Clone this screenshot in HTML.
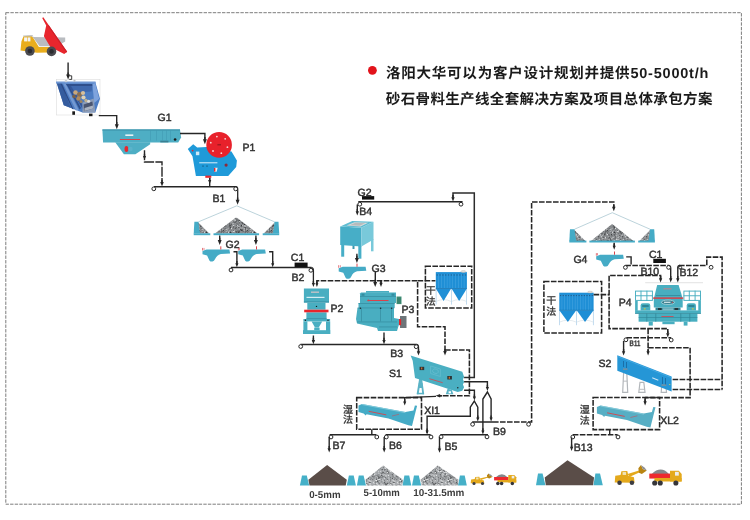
<!DOCTYPE html>
<html><head><meta charset="utf-8"><title>Aggregate production line flow</title>
<style>html,body{margin:0;padding:0;background:#fff;}body{width:750px;height:520px;overflow:hidden;font-family:"Liberation Sans",sans-serif;}svg{display:block}svg text{text-rendering:geometricPrecision}</style>
</head><body>
<svg width="750" height="520" viewBox="0 0 750 520" font-family="Liberation Sans, sans-serif" style="will-change:transform"><defs><pattern id="spk" width="24" height="24" patternUnits="userSpaceOnUse"><rect width="24" height="24" fill="#8a8d90"/><circle cx="7.8" cy="3.6" r="0.51" fill="#2e2f31"/><circle cx="19.7" cy="2.3" r="0.49" fill="#555759"/><circle cx="5.2" cy="2.1" r="0.43" fill="#3a3b3d"/><circle cx="2.2" cy="10.2" r="0.56" fill="#2e2f31"/><circle cx="22.7" cy="15.1" r="0.49" fill="#2e2f31"/><circle cx="13.9" cy="9.5" r="0.61" fill="#2e2f31"/><circle cx="13.4" cy="3.2" r="0.43" fill="#555759"/><circle cx="2.8" cy="7.4" r="0.56" fill="#3a3b3d"/><circle cx="2.5" cy="13.7" r="0.36" fill="#2e2f31"/><circle cx="13.1" cy="1.5" r="0.32" fill="#3a3b3d"/><circle cx="11.9" cy="12.8" r="0.55" fill="#eceeef"/><circle cx="14.1" cy="10.9" r="0.40" fill="#444648"/><circle cx="4.3" cy="18.7" r="0.33" fill="#d8dadc"/><circle cx="12.6" cy="21.0" r="0.53" fill="#d8dadc"/><circle cx="14.6" cy="1.8" r="0.46" fill="#3a3b3d"/><circle cx="18.2" cy="3.6" r="0.46" fill="#2e2f31"/><circle cx="23.1" cy="1.9" r="0.48" fill="#444648"/><circle cx="21.0" cy="7.5" r="0.52" fill="#555759"/><circle cx="11.9" cy="19.1" r="0.32" fill="#2e2f31"/><circle cx="22.7" cy="11.4" r="0.51" fill="#2e2f31"/><circle cx="17.5" cy="7.4" r="0.48" fill="#bfc2c4"/><circle cx="19.7" cy="6.8" r="0.42" fill="#bfc2c4"/><circle cx="8.3" cy="22.6" r="0.41" fill="#555759"/><circle cx="2.8" cy="1.4" r="0.55" fill="#3a3b3d"/><circle cx="17.7" cy="9.5" r="0.59" fill="#eceeef"/><circle cx="1.9" cy="10.8" r="0.48" fill="#3a3b3d"/><circle cx="19.7" cy="20.7" r="0.39" fill="#eceeef"/><circle cx="23.7" cy="16.4" r="0.42" fill="#3a3b3d"/><circle cx="3.6" cy="4.2" r="0.37" fill="#3a3b3d"/><circle cx="0.3" cy="19.9" r="0.36" fill="#d8dadc"/><circle cx="0.1" cy="10.1" r="0.42" fill="#555759"/><circle cx="7.6" cy="3.0" r="0.57" fill="#555759"/><circle cx="15.7" cy="17.8" r="0.45" fill="#444648"/><circle cx="18.7" cy="21.0" r="0.56" fill="#eceeef"/><circle cx="9.6" cy="9.5" r="0.45" fill="#eceeef"/><circle cx="1.5" cy="1.6" r="0.37" fill="#3a3b3d"/><circle cx="2.6" cy="14.4" r="0.33" fill="#555759"/><circle cx="3.6" cy="2.4" r="0.42" fill="#2e2f31"/><circle cx="1.7" cy="5.0" r="0.42" fill="#bfc2c4"/><circle cx="6.1" cy="8.3" r="0.42" fill="#2e2f31"/><circle cx="2.8" cy="11.7" r="0.61" fill="#eceeef"/><circle cx="11.6" cy="2.1" r="0.33" fill="#d8dadc"/><circle cx="17.8" cy="11.5" r="0.52" fill="#555759"/><circle cx="0.6" cy="22.8" r="0.47" fill="#3a3b3d"/><circle cx="16.6" cy="21.9" r="0.54" fill="#d8dadc"/><circle cx="23.5" cy="20.7" r="0.52" fill="#d8dadc"/><circle cx="12.4" cy="21.8" r="0.41" fill="#3a3b3d"/><circle cx="12.8" cy="18.7" r="0.41" fill="#3a3b3d"/><circle cx="14.7" cy="18.9" r="0.54" fill="#3a3b3d"/><circle cx="19.3" cy="19.6" r="0.54" fill="#3a3b3d"/><circle cx="4.8" cy="11.8" r="0.53" fill="#2e2f31"/><circle cx="19.0" cy="11.3" r="0.36" fill="#555759"/><circle cx="23.0" cy="10.7" r="0.60" fill="#d8dadc"/><circle cx="22.9" cy="8.8" r="0.37" fill="#3a3b3d"/><circle cx="11.3" cy="8.1" r="0.45" fill="#555759"/><circle cx="20.2" cy="11.5" r="0.51" fill="#444648"/><circle cx="15.4" cy="20.0" r="0.34" fill="#eceeef"/><circle cx="18.8" cy="18.0" r="0.45" fill="#3a3b3d"/><circle cx="10.4" cy="15.3" r="0.33" fill="#bfc2c4"/><circle cx="9.5" cy="9.6" r="0.60" fill="#bfc2c4"/><circle cx="3.8" cy="23.8" r="0.31" fill="#555759"/><circle cx="21.7" cy="19.4" r="0.35" fill="#444648"/><circle cx="14.3" cy="11.4" r="0.60" fill="#3a3b3d"/><circle cx="13.2" cy="3.1" r="0.30" fill="#bfc2c4"/><circle cx="15.6" cy="12.6" r="0.60" fill="#eceeef"/><circle cx="23.7" cy="4.7" r="0.58" fill="#2e2f31"/><circle cx="6.0" cy="7.0" r="0.38" fill="#555759"/><circle cx="7.8" cy="13.1" r="0.57" fill="#2e2f31"/><circle cx="21.8" cy="8.5" r="0.45" fill="#555759"/><circle cx="19.6" cy="12.4" r="0.56" fill="#555759"/><circle cx="3.1" cy="3.6" r="0.46" fill="#444648"/><circle cx="10.6" cy="4.4" r="0.30" fill="#444648"/><circle cx="3.6" cy="3.4" r="0.50" fill="#2e2f31"/><circle cx="13.4" cy="7.8" r="0.47" fill="#555759"/><circle cx="11.6" cy="18.6" r="0.58" fill="#2e2f31"/><circle cx="6.0" cy="6.6" r="0.55" fill="#555759"/><circle cx="10.9" cy="0.7" r="0.59" fill="#2e2f31"/><circle cx="10.6" cy="14.7" r="0.46" fill="#555759"/><circle cx="4.8" cy="6.7" r="0.46" fill="#444648"/><circle cx="11.5" cy="22.6" r="0.52" fill="#d8dadc"/><circle cx="22.1" cy="21.4" r="0.36" fill="#eceeef"/><circle cx="3.3" cy="2.9" r="0.44" fill="#2e2f31"/><circle cx="16.1" cy="10.3" r="0.37" fill="#d8dadc"/><circle cx="18.8" cy="21.5" r="0.35" fill="#bfc2c4"/><circle cx="15.4" cy="8.8" r="0.38" fill="#3a3b3d"/><circle cx="23.2" cy="5.3" r="0.60" fill="#eceeef"/><circle cx="21.2" cy="3.9" r="0.51" fill="#3a3b3d"/><circle cx="3.9" cy="10.4" r="0.46" fill="#d8dadc"/><circle cx="10.1" cy="8.6" r="0.33" fill="#d8dadc"/><circle cx="0.5" cy="13.3" r="0.44" fill="#2e2f31"/><circle cx="9.2" cy="12.4" r="0.39" fill="#2e2f31"/><circle cx="2.7" cy="22.0" r="0.37" fill="#2e2f31"/><circle cx="2.0" cy="6.5" r="0.59" fill="#3a3b3d"/><circle cx="6.5" cy="3.1" r="0.44" fill="#bfc2c4"/><circle cx="19.7" cy="6.2" r="0.35" fill="#555759"/><circle cx="13.7" cy="16.8" r="0.33" fill="#2e2f31"/><circle cx="19.2" cy="4.4" r="0.59" fill="#d8dadc"/><circle cx="22.5" cy="15.2" r="0.56" fill="#2e2f31"/><circle cx="14.6" cy="5.3" r="0.38" fill="#2e2f31"/><circle cx="10.9" cy="8.1" r="0.48" fill="#d8dadc"/><circle cx="14.9" cy="1.0" r="0.53" fill="#2e2f31"/><circle cx="23.3" cy="6.3" r="0.36" fill="#d8dadc"/><circle cx="15.1" cy="12.7" r="0.37" fill="#eceeef"/><circle cx="12.0" cy="4.3" r="0.41" fill="#2e2f31"/><circle cx="23.9" cy="0.9" r="0.31" fill="#555759"/><circle cx="13.2" cy="4.5" r="0.45" fill="#eceeef"/><circle cx="2.6" cy="19.7" r="0.44" fill="#eceeef"/><circle cx="13.1" cy="21.3" r="0.61" fill="#d8dadc"/><circle cx="16.5" cy="23.6" r="0.41" fill="#444648"/><circle cx="21.2" cy="17.5" r="0.34" fill="#d8dadc"/><circle cx="23.6" cy="20.1" r="0.30" fill="#bfc2c4"/><circle cx="17.8" cy="6.1" r="0.35" fill="#2e2f31"/><circle cx="16.0" cy="9.1" r="0.46" fill="#d8dadc"/><circle cx="14.4" cy="16.6" r="0.31" fill="#3a3b3d"/><circle cx="3.8" cy="10.7" r="0.38" fill="#d8dadc"/><circle cx="23.3" cy="13.1" r="0.38" fill="#d8dadc"/><circle cx="5.2" cy="4.4" r="0.41" fill="#2e2f31"/><circle cx="11.4" cy="12.1" r="0.36" fill="#555759"/><circle cx="18.6" cy="2.2" r="0.56" fill="#3a3b3d"/><circle cx="9.6" cy="1.0" r="0.31" fill="#d8dadc"/><circle cx="15.1" cy="2.0" r="0.61" fill="#444648"/><circle cx="18.0" cy="15.8" r="0.53" fill="#555759"/><circle cx="9.3" cy="7.8" r="0.62" fill="#3a3b3d"/><circle cx="6.8" cy="14.8" r="0.35" fill="#444648"/><circle cx="20.0" cy="21.4" r="0.50" fill="#bfc2c4"/><circle cx="16.8" cy="12.1" r="0.59" fill="#444648"/><circle cx="12.1" cy="20.0" r="0.56" fill="#444648"/><circle cx="16.5" cy="19.2" r="0.53" fill="#bfc2c4"/><circle cx="15.4" cy="2.0" r="0.31" fill="#bfc2c4"/><circle cx="8.7" cy="2.5" r="0.57" fill="#555759"/><circle cx="1.2" cy="0.5" r="0.47" fill="#3a3b3d"/><circle cx="11.7" cy="0.1" r="0.56" fill="#bfc2c4"/><circle cx="22.4" cy="21.5" r="0.33" fill="#555759"/><circle cx="1.6" cy="17.7" r="0.38" fill="#2e2f31"/><circle cx="20.3" cy="5.6" r="0.54" fill="#3a3b3d"/><circle cx="17.8" cy="23.4" r="0.46" fill="#eceeef"/><circle cx="1.8" cy="21.9" r="0.39" fill="#2e2f31"/><circle cx="14.8" cy="15.4" r="0.32" fill="#3a3b3d"/><circle cx="8.0" cy="15.6" r="0.52" fill="#555759"/><circle cx="13.6" cy="0.3" r="0.32" fill="#d8dadc"/><circle cx="23.3" cy="2.4" r="0.37" fill="#eceeef"/><circle cx="7.0" cy="12.4" r="0.45" fill="#eceeef"/><circle cx="18.4" cy="23.8" r="0.48" fill="#d8dadc"/><circle cx="23.5" cy="22.5" r="0.31" fill="#eceeef"/><circle cx="1.8" cy="12.2" r="0.62" fill="#d8dadc"/><circle cx="9.3" cy="22.0" r="0.60" fill="#2e2f31"/><circle cx="14.0" cy="3.4" r="0.47" fill="#d8dadc"/><circle cx="3.2" cy="19.7" r="0.46" fill="#2e2f31"/><circle cx="16.9" cy="5.6" r="0.59" fill="#eceeef"/><circle cx="9.5" cy="3.8" r="0.60" fill="#bfc2c4"/><circle cx="10.8" cy="7.2" r="0.35" fill="#d8dadc"/><circle cx="9.0" cy="2.9" r="0.41" fill="#d8dadc"/><circle cx="18.0" cy="20.1" r="0.34" fill="#3a3b3d"/><circle cx="17.1" cy="21.6" r="0.39" fill="#d8dadc"/><circle cx="1.6" cy="9.4" r="0.58" fill="#2e2f31"/><circle cx="8.7" cy="10.3" r="0.39" fill="#2e2f31"/><circle cx="6.7" cy="1.2" r="0.51" fill="#bfc2c4"/><circle cx="22.5" cy="6.0" r="0.39" fill="#555759"/><circle cx="7.6" cy="18.6" r="0.55" fill="#eceeef"/><circle cx="21.2" cy="19.5" r="0.50" fill="#555759"/><circle cx="13.2" cy="17.3" r="0.32" fill="#bfc2c4"/><circle cx="9.9" cy="14.8" r="0.34" fill="#444648"/><circle cx="6.9" cy="1.2" r="0.60" fill="#3a3b3d"/><circle cx="4.1" cy="10.0" r="0.39" fill="#d8dadc"/><circle cx="17.7" cy="23.4" r="0.38" fill="#bfc2c4"/><circle cx="5.7" cy="11.6" r="0.51" fill="#2e2f31"/><circle cx="4.0" cy="3.9" r="0.37" fill="#444648"/><circle cx="11.9" cy="5.3" r="0.59" fill="#444648"/><circle cx="10.8" cy="3.4" r="0.36" fill="#2e2f31"/><circle cx="4.2" cy="13.3" r="0.40" fill="#d8dadc"/><circle cx="6.2" cy="13.7" r="0.58" fill="#bfc2c4"/><circle cx="20.9" cy="9.2" r="0.54" fill="#3a3b3d"/><circle cx="9.0" cy="8.1" r="0.32" fill="#d8dadc"/><circle cx="13.8" cy="8.6" r="0.52" fill="#555759"/><circle cx="15.1" cy="20.7" r="0.37" fill="#d8dadc"/><circle cx="21.5" cy="9.2" r="0.51" fill="#eceeef"/><circle cx="22.9" cy="20.4" r="0.58" fill="#2e2f31"/><circle cx="3.1" cy="10.2" r="0.54" fill="#444648"/><circle cx="11.4" cy="14.1" r="0.30" fill="#eceeef"/><circle cx="22.3" cy="22.3" r="0.47" fill="#eceeef"/><circle cx="23.3" cy="6.0" r="0.33" fill="#3a3b3d"/><circle cx="3.6" cy="23.3" r="0.33" fill="#444648"/><circle cx="17.3" cy="15.5" r="0.54" fill="#eceeef"/><circle cx="2.0" cy="18.6" r="0.30" fill="#3a3b3d"/><circle cx="5.6" cy="22.1" r="0.51" fill="#d8dadc"/><circle cx="23.1" cy="15.0" r="0.47" fill="#eceeef"/><circle cx="16.8" cy="2.7" r="0.32" fill="#555759"/><circle cx="22.6" cy="4.6" r="0.38" fill="#444648"/><circle cx="14.4" cy="0.3" r="0.40" fill="#eceeef"/><circle cx="6.7" cy="7.6" r="0.57" fill="#3a3b3d"/><circle cx="11.4" cy="5.6" r="0.38" fill="#eceeef"/><circle cx="16.9" cy="7.4" r="0.31" fill="#eceeef"/><circle cx="21.2" cy="15.5" r="0.33" fill="#3a3b3d"/><circle cx="16.0" cy="22.2" r="0.37" fill="#2e2f31"/><circle cx="16.7" cy="17.2" r="0.42" fill="#eceeef"/><circle cx="4.8" cy="19.1" r="0.54" fill="#555759"/><circle cx="1.6" cy="11.9" r="0.36" fill="#444648"/><circle cx="19.7" cy="5.5" r="0.37" fill="#444648"/><circle cx="21.3" cy="2.6" r="0.50" fill="#555759"/><circle cx="4.5" cy="5.4" r="0.43" fill="#bfc2c4"/><circle cx="1.4" cy="14.3" r="0.60" fill="#2e2f31"/><circle cx="5.1" cy="23.4" r="0.35" fill="#2e2f31"/><circle cx="17.0" cy="4.4" r="0.44" fill="#bfc2c4"/><circle cx="21.2" cy="17.6" r="0.62" fill="#3a3b3d"/><circle cx="7.9" cy="4.5" r="0.60" fill="#bfc2c4"/><circle cx="11.2" cy="7.5" r="0.53" fill="#444648"/><circle cx="9.0" cy="8.0" r="0.35" fill="#2e2f31"/><circle cx="1.9" cy="1.9" r="0.43" fill="#2e2f31"/><circle cx="13.5" cy="18.2" r="0.42" fill="#444648"/><circle cx="19.7" cy="19.7" r="0.44" fill="#2e2f31"/><circle cx="16.9" cy="4.7" r="0.47" fill="#eceeef"/><circle cx="4.6" cy="8.7" r="0.59" fill="#2e2f31"/><circle cx="15.2" cy="6.0" r="0.50" fill="#eceeef"/><circle cx="1.0" cy="0.8" r="0.32" fill="#2e2f31"/><circle cx="6.2" cy="17.9" r="0.59" fill="#d8dadc"/><circle cx="8.7" cy="8.0" r="0.61" fill="#2e2f31"/><circle cx="6.3" cy="17.2" r="0.40" fill="#d8dadc"/><circle cx="7.1" cy="17.3" r="0.49" fill="#444648"/><circle cx="15.2" cy="22.6" r="0.31" fill="#3a3b3d"/><circle cx="2.6" cy="17.2" r="0.45" fill="#444648"/><circle cx="9.3" cy="6.0" r="0.44" fill="#eceeef"/><circle cx="3.2" cy="11.9" r="0.30" fill="#bfc2c4"/><circle cx="7.3" cy="16.6" r="0.35" fill="#3a3b3d"/><circle cx="7.9" cy="7.7" r="0.42" fill="#444648"/><circle cx="14.3" cy="12.3" r="0.43" fill="#3a3b3d"/><circle cx="5.9" cy="1.6" r="0.31" fill="#555759"/><circle cx="13.1" cy="3.9" r="0.44" fill="#2e2f31"/><circle cx="23.7" cy="6.4" r="0.33" fill="#2e2f31"/><circle cx="10.1" cy="23.7" r="0.61" fill="#3a3b3d"/><circle cx="5.6" cy="10.0" r="0.50" fill="#bfc2c4"/><circle cx="5.6" cy="12.9" r="0.55" fill="#444648"/><circle cx="2.9" cy="20.2" r="0.39" fill="#555759"/><circle cx="6.4" cy="6.1" r="0.38" fill="#eceeef"/><circle cx="5.9" cy="5.9" r="0.35" fill="#555759"/><circle cx="4.5" cy="1.6" r="0.38" fill="#3a3b3d"/><circle cx="12.2" cy="5.6" r="0.56" fill="#bfc2c4"/><circle cx="11.1" cy="0.9" r="0.30" fill="#444648"/><circle cx="5.5" cy="10.8" r="0.42" fill="#d8dadc"/><circle cx="5.6" cy="1.2" r="0.49" fill="#444648"/><circle cx="14.0" cy="22.3" r="0.42" fill="#444648"/><circle cx="4.3" cy="14.5" r="0.55" fill="#bfc2c4"/><circle cx="22.7" cy="2.5" r="0.49" fill="#555759"/><circle cx="8.4" cy="0.9" r="0.41" fill="#2e2f31"/><circle cx="4.9" cy="6.1" r="0.49" fill="#bfc2c4"/><circle cx="21.9" cy="19.6" r="0.56" fill="#eceeef"/><circle cx="16.3" cy="4.4" r="0.40" fill="#3a3b3d"/><circle cx="0.8" cy="11.9" r="0.45" fill="#eceeef"/><circle cx="2.4" cy="9.5" r="0.48" fill="#bfc2c4"/><circle cx="12.8" cy="15.7" r="0.43" fill="#d8dadc"/><circle cx="9.8" cy="6.8" r="0.40" fill="#2e2f31"/><circle cx="7.5" cy="13.6" r="0.41" fill="#eceeef"/><circle cx="0.4" cy="18.4" r="0.56" fill="#bfc2c4"/><circle cx="4.7" cy="17.5" r="0.37" fill="#2e2f31"/><circle cx="10.4" cy="3.8" r="0.34" fill="#2e2f31"/><circle cx="9.7" cy="21.2" r="0.45" fill="#3a3b3d"/><circle cx="3.1" cy="1.2" r="0.35" fill="#444648"/><circle cx="21.8" cy="2.1" r="0.50" fill="#d8dadc"/><circle cx="17.7" cy="4.1" r="0.41" fill="#3a3b3d"/><circle cx="12.5" cy="22.2" r="0.33" fill="#eceeef"/><circle cx="18.1" cy="19.0" r="0.56" fill="#d8dadc"/><circle cx="3.0" cy="22.6" r="0.61" fill="#eceeef"/><circle cx="7.5" cy="14.6" r="0.50" fill="#2e2f31"/><circle cx="21.7" cy="14.9" r="0.56" fill="#3a3b3d"/><circle cx="15.4" cy="20.6" r="0.50" fill="#555759"/><circle cx="20.3" cy="19.9" r="0.36" fill="#3a3b3d"/><circle cx="1.0" cy="22.5" r="0.35" fill="#d8dadc"/><circle cx="3.0" cy="5.9" r="0.53" fill="#3a3b3d"/><circle cx="1.0" cy="13.5" r="0.54" fill="#2e2f31"/><circle cx="16.0" cy="7.8" r="0.42" fill="#eceeef"/><circle cx="13.2" cy="15.0" r="0.40" fill="#eceeef"/><circle cx="7.4" cy="6.0" r="0.42" fill="#d8dadc"/><circle cx="10.7" cy="10.5" r="0.31" fill="#555759"/><circle cx="23.7" cy="11.2" r="0.44" fill="#555759"/><circle cx="18.7" cy="11.0" r="0.36" fill="#eceeef"/><circle cx="9.6" cy="1.6" r="0.41" fill="#d8dadc"/><circle cx="2.2" cy="10.6" r="0.46" fill="#2e2f31"/><circle cx="1.0" cy="3.1" r="0.60" fill="#d8dadc"/><circle cx="18.7" cy="12.3" r="0.32" fill="#555759"/><circle cx="21.5" cy="15.7" r="0.55" fill="#2e2f31"/><circle cx="20.6" cy="23.9" r="0.53" fill="#444648"/><circle cx="2.6" cy="3.2" r="0.58" fill="#d8dadc"/><circle cx="23.0" cy="22.0" r="0.35" fill="#444648"/><circle cx="17.3" cy="5.3" r="0.57" fill="#555759"/><circle cx="18.1" cy="3.8" r="0.59" fill="#d8dadc"/><circle cx="21.7" cy="11.0" r="0.38" fill="#eceeef"/><circle cx="5.0" cy="6.3" r="0.46" fill="#d8dadc"/><circle cx="8.9" cy="4.8" r="0.43" fill="#bfc2c4"/><circle cx="22.5" cy="16.3" r="0.59" fill="#3a3b3d"/><circle cx="19.0" cy="6.3" r="0.55" fill="#2e2f31"/><circle cx="15.3" cy="8.6" r="0.58" fill="#555759"/><circle cx="12.5" cy="16.5" r="0.59" fill="#d8dadc"/><circle cx="23.8" cy="15.1" r="0.43" fill="#444648"/><circle cx="8.9" cy="9.0" r="0.42" fill="#3a3b3d"/><circle cx="8.6" cy="18.4" r="0.44" fill="#3a3b3d"/><circle cx="14.8" cy="23.0" r="0.39" fill="#555759"/><circle cx="6.1" cy="15.3" r="0.61" fill="#555759"/><circle cx="22.3" cy="21.5" r="0.53" fill="#bfc2c4"/><circle cx="0.8" cy="3.6" r="0.50" fill="#eceeef"/><circle cx="10.0" cy="8.7" r="0.32" fill="#eceeef"/><circle cx="5.5" cy="15.7" r="0.31" fill="#2e2f31"/><circle cx="13.6" cy="7.3" r="0.47" fill="#555759"/><circle cx="5.4" cy="14.0" r="0.49" fill="#3a3b3d"/><circle cx="8.8" cy="19.9" r="0.35" fill="#2e2f31"/><circle cx="22.5" cy="5.8" r="0.35" fill="#2e2f31"/><circle cx="1.5" cy="3.5" r="0.51" fill="#d8dadc"/><circle cx="9.6" cy="6.3" r="0.30" fill="#bfc2c4"/><circle cx="19.7" cy="21.4" r="0.49" fill="#555759"/><circle cx="10.7" cy="22.5" r="0.53" fill="#3a3b3d"/><circle cx="4.0" cy="0.0" r="0.32" fill="#2e2f31"/><circle cx="9.7" cy="5.7" r="0.32" fill="#444648"/><circle cx="2.5" cy="14.7" r="0.51" fill="#3a3b3d"/><circle cx="3.4" cy="4.8" r="0.49" fill="#555759"/><circle cx="15.5" cy="10.0" r="0.50" fill="#555759"/><circle cx="7.4" cy="7.2" r="0.32" fill="#bfc2c4"/><circle cx="18.8" cy="17.2" r="0.30" fill="#444648"/><circle cx="10.5" cy="21.9" r="0.33" fill="#bfc2c4"/><circle cx="10.9" cy="5.4" r="0.33" fill="#3a3b3d"/><circle cx="15.5" cy="3.0" r="0.59" fill="#bfc2c4"/><circle cx="22.6" cy="6.3" r="0.32" fill="#bfc2c4"/><circle cx="13.3" cy="10.5" r="0.55" fill="#555759"/><circle cx="23.3" cy="7.1" r="0.60" fill="#3a3b3d"/><circle cx="2.1" cy="12.2" r="0.35" fill="#3a3b3d"/><circle cx="20.2" cy="4.9" r="0.35" fill="#d8dadc"/><circle cx="4.6" cy="9.3" r="0.49" fill="#eceeef"/><circle cx="21.8" cy="15.1" r="0.52" fill="#bfc2c4"/><circle cx="20.2" cy="12.9" r="0.45" fill="#555759"/><circle cx="16.7" cy="20.6" r="0.44" fill="#bfc2c4"/><circle cx="5.6" cy="21.2" r="0.55" fill="#eceeef"/><circle cx="14.9" cy="1.9" r="0.59" fill="#3a3b3d"/><circle cx="0.8" cy="2.7" r="0.50" fill="#3a3b3d"/><circle cx="8.3" cy="3.4" r="0.31" fill="#2e2f31"/><circle cx="3.3" cy="15.4" r="0.31" fill="#2e2f31"/><circle cx="17.7" cy="1.6" r="0.49" fill="#d8dadc"/><circle cx="4.8" cy="22.9" r="0.47" fill="#bfc2c4"/><circle cx="1.6" cy="20.8" r="0.59" fill="#eceeef"/><circle cx="2.6" cy="4.9" r="0.34" fill="#2e2f31"/><circle cx="22.8" cy="21.9" r="0.54" fill="#2e2f31"/><circle cx="19.8" cy="15.2" r="0.39" fill="#2e2f31"/><circle cx="3.2" cy="19.0" r="0.51" fill="#d8dadc"/><circle cx="7.7" cy="10.2" r="0.31" fill="#d8dadc"/><circle cx="22.3" cy="1.2" r="0.54" fill="#d8dadc"/><circle cx="18.5" cy="14.4" r="0.45" fill="#d8dadc"/><circle cx="14.8" cy="0.7" r="0.43" fill="#eceeef"/><circle cx="12.4" cy="2.4" r="0.45" fill="#2e2f31"/><circle cx="12.9" cy="5.2" r="0.58" fill="#2e2f31"/><circle cx="13.8" cy="6.9" r="0.44" fill="#555759"/><circle cx="4.8" cy="18.3" r="0.61" fill="#2e2f31"/><circle cx="8.3" cy="2.3" r="0.52" fill="#444648"/><circle cx="4.4" cy="11.9" r="0.41" fill="#444648"/><circle cx="12.4" cy="13.9" r="0.35" fill="#444648"/><circle cx="5.2" cy="16.8" r="0.46" fill="#2e2f31"/><circle cx="22.5" cy="18.4" r="0.46" fill="#bfc2c4"/><circle cx="13.5" cy="2.5" r="0.40" fill="#2e2f31"/><circle cx="9.6" cy="9.5" r="0.58" fill="#2e2f31"/><circle cx="10.1" cy="15.5" r="0.42" fill="#d8dadc"/><circle cx="6.3" cy="21.6" r="0.46" fill="#eceeef"/><circle cx="23.6" cy="15.1" r="0.60" fill="#3a3b3d"/><circle cx="12.8" cy="18.1" r="0.54" fill="#bfc2c4"/><circle cx="0.8" cy="14.0" r="0.47" fill="#444648"/><circle cx="20.2" cy="15.9" r="0.54" fill="#3a3b3d"/><circle cx="11.1" cy="16.5" r="0.38" fill="#3a3b3d"/><circle cx="3.0" cy="11.1" r="0.58" fill="#3a3b3d"/><circle cx="12.2" cy="6.4" r="0.54" fill="#444648"/><circle cx="20.2" cy="3.7" r="0.35" fill="#3a3b3d"/><circle cx="17.4" cy="14.5" r="0.41" fill="#3a3b3d"/><circle cx="7.9" cy="4.5" r="0.61" fill="#bfc2c4"/><circle cx="23.9" cy="4.0" r="0.51" fill="#3a3b3d"/><circle cx="9.2" cy="23.6" r="0.55" fill="#bfc2c4"/><circle cx="7.1" cy="6.6" r="0.33" fill="#2e2f31"/><circle cx="6.7" cy="21.2" r="0.45" fill="#2e2f31"/><circle cx="9.6" cy="19.0" r="0.52" fill="#555759"/><circle cx="23.5" cy="7.1" r="0.31" fill="#d8dadc"/><circle cx="14.5" cy="9.7" r="0.54" fill="#444648"/><circle cx="10.3" cy="13.8" r="0.54" fill="#eceeef"/><circle cx="20.3" cy="16.0" r="0.51" fill="#444648"/><circle cx="15.4" cy="14.0" r="0.37" fill="#3a3b3d"/><circle cx="15.4" cy="10.9" r="0.40" fill="#bfc2c4"/><circle cx="16.8" cy="21.5" r="0.38" fill="#eceeef"/><circle cx="17.1" cy="15.1" r="0.38" fill="#eceeef"/><circle cx="11.6" cy="0.5" r="0.57" fill="#555759"/><circle cx="16.2" cy="22.3" r="0.36" fill="#bfc2c4"/><circle cx="7.9" cy="0.3" r="0.57" fill="#2e2f31"/><circle cx="0.9" cy="13.0" r="0.35" fill="#444648"/><circle cx="22.8" cy="4.8" r="0.41" fill="#444648"/><circle cx="13.8" cy="13.0" r="0.53" fill="#555759"/><circle cx="0.4" cy="19.0" r="0.42" fill="#d8dadc"/><circle cx="9.8" cy="22.8" r="0.37" fill="#bfc2c4"/><circle cx="4.4" cy="12.3" r="0.60" fill="#bfc2c4"/><circle cx="23.6" cy="8.5" r="0.32" fill="#d8dadc"/><circle cx="9.2" cy="1.5" r="0.32" fill="#eceeef"/><circle cx="15.1" cy="16.2" r="0.49" fill="#2e2f31"/><circle cx="5.4" cy="17.8" r="0.60" fill="#555759"/><circle cx="23.3" cy="23.9" r="0.61" fill="#eceeef"/><circle cx="5.1" cy="3.1" r="0.55" fill="#444648"/><circle cx="19.2" cy="4.6" r="0.51" fill="#bfc2c4"/><circle cx="5.4" cy="23.1" r="0.41" fill="#bfc2c4"/><circle cx="19.9" cy="19.1" r="0.43" fill="#d8dadc"/><circle cx="18.2" cy="15.6" r="0.55" fill="#eceeef"/><circle cx="8.5" cy="20.4" r="0.39" fill="#eceeef"/><circle cx="16.5" cy="23.6" r="0.52" fill="#eceeef"/><circle cx="0.1" cy="17.3" r="0.39" fill="#3a3b3d"/><circle cx="15.7" cy="7.7" r="0.46" fill="#555759"/><circle cx="15.3" cy="15.8" r="0.42" fill="#d8dadc"/><circle cx="20.5" cy="1.4" r="0.56" fill="#d8dadc"/><circle cx="18.8" cy="3.4" r="0.57" fill="#bfc2c4"/><circle cx="14.0" cy="15.8" r="0.37" fill="#2e2f31"/><circle cx="15.7" cy="6.0" r="0.33" fill="#3a3b3d"/><circle cx="20.5" cy="4.5" r="0.44" fill="#444648"/><circle cx="3.7" cy="21.7" r="0.55" fill="#3a3b3d"/><circle cx="14.6" cy="16.5" r="0.61" fill="#2e2f31"/><circle cx="16.0" cy="21.5" r="0.55" fill="#444648"/><circle cx="7.1" cy="11.9" r="0.37" fill="#2e2f31"/><circle cx="17.8" cy="10.5" r="0.58" fill="#555759"/><circle cx="2.8" cy="10.1" r="0.56" fill="#eceeef"/><circle cx="11.8" cy="1.4" r="0.45" fill="#3a3b3d"/><circle cx="16.8" cy="5.9" r="0.35" fill="#555759"/><circle cx="20.7" cy="0.2" r="0.57" fill="#eceeef"/><circle cx="16.7" cy="11.9" r="0.39" fill="#eceeef"/><circle cx="9.0" cy="10.1" r="0.61" fill="#2e2f31"/><circle cx="4.3" cy="8.6" r="0.51" fill="#2e2f31"/></pattern><pattern id="spk2" width="24" height="24" patternUnits="userSpaceOnUse"><rect width="24" height="24" fill="#a2a5a8"/><circle cx="14.6" cy="16.4" r="0.60" fill="#e4e6e7"/><circle cx="19.4" cy="2.3" r="0.45" fill="#5d5f61"/><circle cx="0.8" cy="17.2" r="0.50" fill="#e4e6e7"/><circle cx="2.3" cy="15.8" r="0.41" fill="#76787a"/><circle cx="13.3" cy="21.9" r="0.39" fill="#e4e6e7"/><circle cx="10.1" cy="13.3" r="0.56" fill="#e4e6e7"/><circle cx="8.5" cy="11.8" r="0.41" fill="#e4e6e7"/><circle cx="21.0" cy="8.3" r="0.37" fill="#f4f5f5"/><circle cx="19.0" cy="7.9" r="0.40" fill="#e4e6e7"/><circle cx="3.1" cy="23.3" r="0.33" fill="#4a4c4e"/><circle cx="9.6" cy="13.3" r="0.43" fill="#76787a"/><circle cx="1.2" cy="7.2" r="0.30" fill="#5d5f61"/><circle cx="19.7" cy="11.4" r="0.55" fill="#4a4c4e"/><circle cx="18.9" cy="21.8" r="0.50" fill="#76787a"/><circle cx="3.5" cy="16.2" r="0.52" fill="#cfd1d3"/><circle cx="2.0" cy="0.9" r="0.50" fill="#cfd1d3"/><circle cx="18.3" cy="2.4" r="0.36" fill="#4a4c4e"/><circle cx="10.1" cy="2.4" r="0.60" fill="#4a4c4e"/><circle cx="8.9" cy="19.7" r="0.55" fill="#76787a"/><circle cx="17.0" cy="20.7" r="0.36" fill="#4a4c4e"/><circle cx="7.6" cy="10.3" r="0.51" fill="#4a4c4e"/><circle cx="11.9" cy="12.5" r="0.56" fill="#f4f5f5"/><circle cx="13.8" cy="22.0" r="0.44" fill="#4a4c4e"/><circle cx="16.3" cy="14.3" r="0.62" fill="#cfd1d3"/><circle cx="23.5" cy="11.4" r="0.43" fill="#4a4c4e"/><circle cx="2.0" cy="11.3" r="0.59" fill="#cfd1d3"/><circle cx="0.4" cy="0.1" r="0.52" fill="#4a4c4e"/><circle cx="23.7" cy="20.6" r="0.37" fill="#4a4c4e"/><circle cx="3.1" cy="0.4" r="0.53" fill="#5d5f61"/><circle cx="10.8" cy="17.9" r="0.60" fill="#e4e6e7"/><circle cx="18.6" cy="17.1" r="0.57" fill="#cfd1d3"/><circle cx="18.2" cy="7.0" r="0.48" fill="#f4f5f5"/><circle cx="11.1" cy="22.4" r="0.38" fill="#4a4c4e"/><circle cx="17.2" cy="0.3" r="0.30" fill="#cfd1d3"/><circle cx="16.5" cy="14.8" r="0.42" fill="#e4e6e7"/><circle cx="17.5" cy="4.0" r="0.58" fill="#f4f5f5"/><circle cx="14.6" cy="7.6" r="0.60" fill="#cfd1d3"/><circle cx="10.5" cy="16.2" r="0.35" fill="#4a4c4e"/><circle cx="8.7" cy="15.5" r="0.50" fill="#f4f5f5"/><circle cx="11.4" cy="18.7" r="0.44" fill="#e4e6e7"/><circle cx="18.8" cy="13.6" r="0.39" fill="#4a4c4e"/><circle cx="14.9" cy="15.6" r="0.56" fill="#76787a"/><circle cx="8.0" cy="14.5" r="0.61" fill="#5d5f61"/><circle cx="14.4" cy="7.4" r="0.44" fill="#5d5f61"/><circle cx="9.0" cy="16.4" r="0.49" fill="#5d5f61"/><circle cx="19.4" cy="6.8" r="0.30" fill="#e4e6e7"/><circle cx="6.4" cy="3.8" r="0.59" fill="#4a4c4e"/><circle cx="6.9" cy="3.4" r="0.58" fill="#76787a"/><circle cx="3.5" cy="23.4" r="0.56" fill="#76787a"/><circle cx="16.4" cy="21.9" r="0.41" fill="#4a4c4e"/><circle cx="13.0" cy="11.6" r="0.42" fill="#cfd1d3"/><circle cx="22.4" cy="5.6" r="0.49" fill="#cfd1d3"/><circle cx="9.5" cy="17.0" r="0.60" fill="#76787a"/><circle cx="18.0" cy="19.0" r="0.45" fill="#4a4c4e"/><circle cx="12.9" cy="8.5" r="0.32" fill="#f4f5f5"/><circle cx="13.9" cy="21.5" r="0.58" fill="#76787a"/><circle cx="7.7" cy="12.1" r="0.36" fill="#5d5f61"/><circle cx="4.6" cy="4.3" r="0.52" fill="#e4e6e7"/><circle cx="13.9" cy="8.6" r="0.55" fill="#5d5f61"/><circle cx="5.9" cy="22.1" r="0.46" fill="#4a4c4e"/><circle cx="8.9" cy="11.1" r="0.33" fill="#e4e6e7"/><circle cx="14.3" cy="8.3" r="0.47" fill="#4a4c4e"/><circle cx="2.3" cy="4.9" r="0.58" fill="#76787a"/><circle cx="11.7" cy="13.6" r="0.38" fill="#e4e6e7"/><circle cx="10.2" cy="22.7" r="0.55" fill="#76787a"/><circle cx="23.1" cy="6.1" r="0.31" fill="#5d5f61"/><circle cx="23.9" cy="9.1" r="0.31" fill="#4a4c4e"/><circle cx="13.4" cy="20.9" r="0.45" fill="#4a4c4e"/><circle cx="20.7" cy="15.4" r="0.60" fill="#cfd1d3"/><circle cx="23.0" cy="6.2" r="0.48" fill="#cfd1d3"/><circle cx="2.2" cy="22.1" r="0.46" fill="#5d5f61"/><circle cx="10.8" cy="3.8" r="0.61" fill="#cfd1d3"/><circle cx="5.3" cy="0.9" r="0.38" fill="#e4e6e7"/><circle cx="1.4" cy="13.3" r="0.31" fill="#4a4c4e"/><circle cx="6.2" cy="12.3" r="0.54" fill="#f4f5f5"/><circle cx="1.3" cy="3.5" r="0.54" fill="#5d5f61"/><circle cx="16.2" cy="7.2" r="0.49" fill="#cfd1d3"/><circle cx="2.5" cy="7.8" r="0.38" fill="#4a4c4e"/><circle cx="9.0" cy="9.1" r="0.44" fill="#5d5f61"/><circle cx="21.9" cy="21.4" r="0.45" fill="#5d5f61"/><circle cx="19.2" cy="3.8" r="0.57" fill="#4a4c4e"/><circle cx="22.4" cy="20.8" r="0.58" fill="#5d5f61"/><circle cx="18.7" cy="23.0" r="0.60" fill="#f4f5f5"/><circle cx="20.2" cy="15.1" r="0.44" fill="#e4e6e7"/><circle cx="7.7" cy="5.6" r="0.34" fill="#e4e6e7"/><circle cx="3.4" cy="5.3" r="0.32" fill="#cfd1d3"/><circle cx="10.8" cy="21.3" r="0.44" fill="#5d5f61"/><circle cx="6.4" cy="9.9" r="0.35" fill="#e4e6e7"/><circle cx="13.7" cy="7.1" r="0.56" fill="#e4e6e7"/><circle cx="11.8" cy="7.6" r="0.59" fill="#4a4c4e"/><circle cx="3.7" cy="12.3" r="0.50" fill="#cfd1d3"/><circle cx="22.2" cy="13.4" r="0.57" fill="#4a4c4e"/><circle cx="6.2" cy="4.8" r="0.42" fill="#e4e6e7"/><circle cx="24.0" cy="22.2" r="0.33" fill="#e4e6e7"/><circle cx="10.0" cy="3.9" r="0.57" fill="#e4e6e7"/><circle cx="3.5" cy="15.4" r="0.44" fill="#76787a"/><circle cx="8.2" cy="3.4" r="0.30" fill="#76787a"/><circle cx="6.9" cy="8.6" r="0.31" fill="#f4f5f5"/><circle cx="5.2" cy="13.7" r="0.34" fill="#5d5f61"/><circle cx="12.5" cy="5.5" r="0.36" fill="#76787a"/><circle cx="1.9" cy="2.1" r="0.49" fill="#f4f5f5"/><circle cx="18.3" cy="4.2" r="0.34" fill="#cfd1d3"/><circle cx="17.0" cy="19.5" r="0.49" fill="#5d5f61"/><circle cx="0.2" cy="16.6" r="0.47" fill="#cfd1d3"/><circle cx="22.0" cy="12.4" r="0.41" fill="#e4e6e7"/><circle cx="20.2" cy="20.7" r="0.46" fill="#4a4c4e"/><circle cx="9.8" cy="18.3" r="0.34" fill="#cfd1d3"/><circle cx="6.4" cy="4.5" r="0.57" fill="#e4e6e7"/><circle cx="0.9" cy="16.9" r="0.48" fill="#4a4c4e"/><circle cx="8.5" cy="22.4" r="0.61" fill="#4a4c4e"/><circle cx="2.9" cy="17.2" r="0.56" fill="#e4e6e7"/><circle cx="18.7" cy="20.8" r="0.48" fill="#4a4c4e"/><circle cx="7.0" cy="2.6" r="0.53" fill="#f4f5f5"/><circle cx="12.3" cy="12.7" r="0.47" fill="#4a4c4e"/><circle cx="5.8" cy="2.1" r="0.50" fill="#5d5f61"/><circle cx="2.5" cy="6.0" r="0.56" fill="#4a4c4e"/><circle cx="0.5" cy="22.2" r="0.54" fill="#e4e6e7"/><circle cx="0.4" cy="14.4" r="0.48" fill="#76787a"/><circle cx="5.7" cy="10.7" r="0.41" fill="#4a4c4e"/><circle cx="17.2" cy="1.1" r="0.34" fill="#f4f5f5"/><circle cx="14.1" cy="18.3" r="0.34" fill="#4a4c4e"/><circle cx="9.7" cy="3.3" r="0.49" fill="#5d5f61"/><circle cx="3.5" cy="13.7" r="0.54" fill="#5d5f61"/><circle cx="22.8" cy="0.4" r="0.50" fill="#cfd1d3"/><circle cx="10.1" cy="20.2" r="0.47" fill="#f4f5f5"/><circle cx="23.3" cy="1.2" r="0.42" fill="#f4f5f5"/><circle cx="5.8" cy="8.0" r="0.44" fill="#76787a"/><circle cx="19.3" cy="21.9" r="0.56" fill="#76787a"/><circle cx="1.3" cy="12.4" r="0.61" fill="#e4e6e7"/><circle cx="6.0" cy="10.1" r="0.50" fill="#e4e6e7"/><circle cx="2.6" cy="4.5" r="0.40" fill="#5d5f61"/><circle cx="12.1" cy="0.5" r="0.34" fill="#f4f5f5"/><circle cx="18.6" cy="22.5" r="0.50" fill="#4a4c4e"/><circle cx="0.8" cy="15.4" r="0.39" fill="#cfd1d3"/><circle cx="15.0" cy="15.1" r="0.56" fill="#4a4c4e"/><circle cx="14.9" cy="6.0" r="0.47" fill="#f4f5f5"/><circle cx="5.7" cy="0.9" r="0.34" fill="#e4e6e7"/><circle cx="15.5" cy="2.9" r="0.49" fill="#76787a"/><circle cx="21.6" cy="2.0" r="0.49" fill="#5d5f61"/><circle cx="10.6" cy="12.3" r="0.58" fill="#f4f5f5"/><circle cx="13.9" cy="6.6" r="0.54" fill="#cfd1d3"/><circle cx="13.1" cy="20.2" r="0.50" fill="#76787a"/><circle cx="5.3" cy="9.3" r="0.48" fill="#e4e6e7"/><circle cx="11.1" cy="13.2" r="0.50" fill="#f4f5f5"/><circle cx="19.7" cy="0.7" r="0.41" fill="#5d5f61"/><circle cx="12.3" cy="9.2" r="0.49" fill="#4a4c4e"/><circle cx="22.2" cy="3.9" r="0.60" fill="#e4e6e7"/><circle cx="13.4" cy="11.8" r="0.39" fill="#5d5f61"/><circle cx="7.1" cy="18.5" r="0.35" fill="#4a4c4e"/><circle cx="14.5" cy="8.4" r="0.51" fill="#76787a"/><circle cx="9.3" cy="10.6" r="0.54" fill="#4a4c4e"/><circle cx="12.5" cy="23.7" r="0.52" fill="#5d5f61"/><circle cx="10.0" cy="16.0" r="0.34" fill="#5d5f61"/><circle cx="14.8" cy="20.4" r="0.56" fill="#76787a"/><circle cx="2.3" cy="20.6" r="0.60" fill="#f4f5f5"/><circle cx="6.4" cy="15.1" r="0.50" fill="#cfd1d3"/><circle cx="3.1" cy="20.9" r="0.30" fill="#76787a"/><circle cx="14.1" cy="11.9" r="0.61" fill="#76787a"/><circle cx="3.6" cy="20.4" r="0.39" fill="#76787a"/><circle cx="14.6" cy="9.1" r="0.44" fill="#f4f5f5"/><circle cx="6.9" cy="8.5" r="0.41" fill="#76787a"/><circle cx="13.3" cy="9.2" r="0.40" fill="#cfd1d3"/><circle cx="20.4" cy="12.0" r="0.44" fill="#5d5f61"/><circle cx="12.9" cy="19.3" r="0.44" fill="#f4f5f5"/><circle cx="14.0" cy="2.1" r="0.59" fill="#e4e6e7"/><circle cx="23.3" cy="14.6" r="0.38" fill="#e4e6e7"/><circle cx="4.9" cy="10.2" r="0.59" fill="#4a4c4e"/><circle cx="0.6" cy="6.2" r="0.59" fill="#e4e6e7"/><circle cx="22.1" cy="18.6" r="0.47" fill="#f4f5f5"/><circle cx="12.4" cy="12.4" r="0.52" fill="#f4f5f5"/><circle cx="11.1" cy="1.0" r="0.52" fill="#f4f5f5"/><circle cx="22.7" cy="16.2" r="0.47" fill="#4a4c4e"/><circle cx="9.8" cy="12.0" r="0.51" fill="#76787a"/><circle cx="3.7" cy="4.5" r="0.43" fill="#f4f5f5"/><circle cx="10.6" cy="15.0" r="0.62" fill="#e4e6e7"/><circle cx="16.6" cy="17.9" r="0.33" fill="#e4e6e7"/><circle cx="7.6" cy="23.5" r="0.56" fill="#76787a"/><circle cx="4.2" cy="15.7" r="0.39" fill="#e4e6e7"/><circle cx="19.7" cy="23.8" r="0.58" fill="#f4f5f5"/><circle cx="15.1" cy="12.6" r="0.56" fill="#5d5f61"/><circle cx="12.1" cy="4.5" r="0.36" fill="#cfd1d3"/><circle cx="13.6" cy="2.6" r="0.48" fill="#cfd1d3"/><circle cx="15.3" cy="1.0" r="0.43" fill="#4a4c4e"/><circle cx="7.4" cy="16.6" r="0.30" fill="#e4e6e7"/><circle cx="9.5" cy="2.4" r="0.30" fill="#4a4c4e"/><circle cx="4.7" cy="11.9" r="0.48" fill="#e4e6e7"/><circle cx="20.9" cy="21.5" r="0.46" fill="#5d5f61"/><circle cx="13.8" cy="9.9" r="0.34" fill="#5d5f61"/><circle cx="12.4" cy="12.2" r="0.31" fill="#4a4c4e"/><circle cx="4.1" cy="12.5" r="0.56" fill="#76787a"/><circle cx="10.3" cy="19.2" r="0.51" fill="#cfd1d3"/><circle cx="18.5" cy="7.7" r="0.53" fill="#e4e6e7"/><circle cx="6.6" cy="0.8" r="0.50" fill="#76787a"/><circle cx="1.5" cy="4.6" r="0.50" fill="#4a4c4e"/><circle cx="1.3" cy="21.4" r="0.49" fill="#4a4c4e"/><circle cx="10.6" cy="14.9" r="0.38" fill="#4a4c4e"/><circle cx="3.8" cy="14.1" r="0.36" fill="#4a4c4e"/><circle cx="21.6" cy="19.6" r="0.40" fill="#76787a"/><circle cx="6.0" cy="21.3" r="0.61" fill="#4a4c4e"/><circle cx="5.8" cy="9.4" r="0.53" fill="#5d5f61"/><circle cx="9.9" cy="9.6" r="0.53" fill="#4a4c4e"/><circle cx="19.0" cy="5.8" r="0.36" fill="#e4e6e7"/><circle cx="9.1" cy="0.2" r="0.58" fill="#f4f5f5"/><circle cx="13.5" cy="2.8" r="0.47" fill="#f4f5f5"/><circle cx="8.1" cy="15.6" r="0.61" fill="#f4f5f5"/><circle cx="19.8" cy="8.4" r="0.38" fill="#5d5f61"/><circle cx="11.2" cy="8.3" r="0.44" fill="#e4e6e7"/><circle cx="15.9" cy="8.2" r="0.35" fill="#cfd1d3"/><circle cx="3.1" cy="4.7" r="0.47" fill="#5d5f61"/><circle cx="13.3" cy="11.2" r="0.55" fill="#5d5f61"/><circle cx="3.8" cy="8.5" r="0.53" fill="#f4f5f5"/><circle cx="15.1" cy="13.9" r="0.40" fill="#f4f5f5"/><circle cx="12.1" cy="5.5" r="0.44" fill="#5d5f61"/><circle cx="22.6" cy="24.0" r="0.49" fill="#f4f5f5"/><circle cx="14.1" cy="8.8" r="0.38" fill="#76787a"/><circle cx="12.2" cy="3.0" r="0.54" fill="#cfd1d3"/><circle cx="12.3" cy="13.0" r="0.39" fill="#f4f5f5"/><circle cx="0.7" cy="17.2" r="0.35" fill="#4a4c4e"/><circle cx="9.4" cy="2.1" r="0.36" fill="#5d5f61"/><circle cx="7.7" cy="15.9" r="0.33" fill="#76787a"/><circle cx="21.9" cy="19.3" r="0.54" fill="#5d5f61"/><circle cx="1.6" cy="7.5" r="0.37" fill="#5d5f61"/><circle cx="19.6" cy="9.6" r="0.41" fill="#f4f5f5"/><circle cx="18.6" cy="21.2" r="0.58" fill="#5d5f61"/><circle cx="22.5" cy="4.2" r="0.42" fill="#cfd1d3"/><circle cx="16.6" cy="21.5" r="0.31" fill="#cfd1d3"/><circle cx="16.8" cy="6.0" r="0.57" fill="#e4e6e7"/><circle cx="21.7" cy="2.3" r="0.39" fill="#e4e6e7"/><circle cx="21.9" cy="17.6" r="0.53" fill="#4a4c4e"/><circle cx="9.7" cy="14.6" r="0.44" fill="#e4e6e7"/><circle cx="3.7" cy="17.7" r="0.48" fill="#cfd1d3"/><circle cx="15.3" cy="4.3" r="0.57" fill="#76787a"/><circle cx="11.9" cy="12.5" r="0.60" fill="#cfd1d3"/><circle cx="16.4" cy="8.4" r="0.30" fill="#cfd1d3"/><circle cx="6.9" cy="1.0" r="0.57" fill="#76787a"/><circle cx="16.7" cy="23.4" r="0.52" fill="#4a4c4e"/><circle cx="19.0" cy="5.0" r="0.59" fill="#cfd1d3"/><circle cx="21.9" cy="10.0" r="0.54" fill="#cfd1d3"/><circle cx="14.8" cy="5.3" r="0.47" fill="#e4e6e7"/><circle cx="22.7" cy="10.2" r="0.60" fill="#cfd1d3"/><circle cx="12.1" cy="16.5" r="0.57" fill="#cfd1d3"/><circle cx="10.9" cy="1.3" r="0.52" fill="#f4f5f5"/><circle cx="16.2" cy="20.3" r="0.55" fill="#f4f5f5"/><circle cx="18.3" cy="1.0" r="0.52" fill="#76787a"/><circle cx="6.3" cy="13.1" r="0.61" fill="#cfd1d3"/><circle cx="5.7" cy="6.2" r="0.61" fill="#5d5f61"/><circle cx="8.6" cy="9.9" r="0.36" fill="#e4e6e7"/><circle cx="3.3" cy="16.5" r="0.46" fill="#f4f5f5"/><circle cx="5.7" cy="5.8" r="0.46" fill="#f4f5f5"/><circle cx="3.2" cy="15.4" r="0.52" fill="#5d5f61"/><circle cx="21.2" cy="3.4" r="0.48" fill="#e4e6e7"/><circle cx="15.1" cy="2.8" r="0.44" fill="#5d5f61"/><circle cx="16.2" cy="3.7" r="0.61" fill="#f4f5f5"/><circle cx="19.9" cy="2.7" r="0.39" fill="#e4e6e7"/><circle cx="11.7" cy="1.0" r="0.59" fill="#e4e6e7"/><circle cx="4.7" cy="16.8" r="0.44" fill="#4a4c4e"/><circle cx="3.9" cy="10.7" r="0.48" fill="#e4e6e7"/><circle cx="4.0" cy="1.7" r="0.30" fill="#f4f5f5"/><circle cx="2.0" cy="17.2" r="0.61" fill="#76787a"/><circle cx="6.3" cy="15.5" r="0.61" fill="#f4f5f5"/><circle cx="4.6" cy="13.0" r="0.30" fill="#4a4c4e"/><circle cx="15.5" cy="15.1" r="0.60" fill="#cfd1d3"/><circle cx="16.8" cy="15.7" r="0.33" fill="#cfd1d3"/><circle cx="0.7" cy="18.6" r="0.57" fill="#e4e6e7"/><circle cx="8.8" cy="23.1" r="0.47" fill="#cfd1d3"/><circle cx="4.0" cy="18.8" r="0.57" fill="#cfd1d3"/><circle cx="14.8" cy="9.1" r="0.51" fill="#e4e6e7"/><circle cx="7.7" cy="8.8" r="0.48" fill="#e4e6e7"/><circle cx="20.1" cy="6.1" r="0.32" fill="#4a4c4e"/><circle cx="13.6" cy="15.1" r="0.56" fill="#cfd1d3"/><circle cx="9.7" cy="1.2" r="0.37" fill="#f4f5f5"/><circle cx="12.0" cy="3.8" r="0.40" fill="#76787a"/><circle cx="15.0" cy="3.4" r="0.37" fill="#5d5f61"/><circle cx="10.6" cy="23.3" r="0.33" fill="#4a4c4e"/><circle cx="20.4" cy="11.5" r="0.37" fill="#e4e6e7"/><circle cx="0.1" cy="20.2" r="0.57" fill="#76787a"/><circle cx="10.2" cy="6.8" r="0.51" fill="#76787a"/><circle cx="17.1" cy="21.4" r="0.32" fill="#4a4c4e"/><circle cx="16.0" cy="19.8" r="0.59" fill="#5d5f61"/><circle cx="9.1" cy="0.1" r="0.56" fill="#cfd1d3"/><circle cx="8.4" cy="4.7" r="0.33" fill="#e4e6e7"/><circle cx="12.4" cy="10.3" r="0.47" fill="#cfd1d3"/><circle cx="20.8" cy="23.4" r="0.61" fill="#76787a"/><circle cx="2.0" cy="19.4" r="0.53" fill="#e4e6e7"/><circle cx="14.6" cy="7.1" r="0.48" fill="#e4e6e7"/><circle cx="11.5" cy="15.5" r="0.40" fill="#e4e6e7"/><circle cx="12.7" cy="15.2" r="0.57" fill="#5d5f61"/><circle cx="16.3" cy="10.7" r="0.33" fill="#cfd1d3"/><circle cx="13.9" cy="13.3" r="0.60" fill="#e4e6e7"/><circle cx="12.7" cy="13.6" r="0.43" fill="#4a4c4e"/><circle cx="5.5" cy="23.2" r="0.36" fill="#cfd1d3"/><circle cx="2.7" cy="20.7" r="0.38" fill="#4a4c4e"/><circle cx="4.5" cy="16.1" r="0.53" fill="#5d5f61"/><circle cx="13.3" cy="5.4" r="0.48" fill="#4a4c4e"/><circle cx="17.7" cy="21.8" r="0.48" fill="#f4f5f5"/><circle cx="16.3" cy="19.2" r="0.34" fill="#76787a"/><circle cx="13.2" cy="17.2" r="0.54" fill="#4a4c4e"/><circle cx="15.0" cy="23.0" r="0.46" fill="#f4f5f5"/><circle cx="19.9" cy="9.4" r="0.35" fill="#5d5f61"/><circle cx="13.5" cy="18.6" r="0.34" fill="#76787a"/><circle cx="1.4" cy="5.7" r="0.42" fill="#4a4c4e"/><circle cx="16.8" cy="22.9" r="0.45" fill="#4a4c4e"/><circle cx="17.0" cy="10.2" r="0.58" fill="#76787a"/><circle cx="23.7" cy="4.8" r="0.34" fill="#cfd1d3"/><circle cx="20.9" cy="4.0" r="0.54" fill="#e4e6e7"/><circle cx="19.3" cy="17.7" r="0.30" fill="#e4e6e7"/><circle cx="2.9" cy="9.0" r="0.54" fill="#e4e6e7"/><circle cx="17.3" cy="1.0" r="0.49" fill="#4a4c4e"/><circle cx="8.5" cy="7.9" r="0.49" fill="#4a4c4e"/><circle cx="22.2" cy="16.2" r="0.38" fill="#5d5f61"/><circle cx="16.7" cy="0.5" r="0.62" fill="#f4f5f5"/><circle cx="2.7" cy="0.5" r="0.34" fill="#e4e6e7"/><circle cx="4.4" cy="13.3" r="0.39" fill="#cfd1d3"/><circle cx="16.1" cy="20.1" r="0.49" fill="#e4e6e7"/><circle cx="12.9" cy="16.5" r="0.56" fill="#f4f5f5"/><circle cx="0.3" cy="8.2" r="0.35" fill="#76787a"/><circle cx="11.6" cy="0.8" r="0.57" fill="#4a4c4e"/><circle cx="4.4" cy="19.6" r="0.52" fill="#f4f5f5"/><circle cx="20.2" cy="23.2" r="0.52" fill="#f4f5f5"/><circle cx="9.4" cy="21.0" r="0.50" fill="#4a4c4e"/><circle cx="8.7" cy="12.7" r="0.40" fill="#5d5f61"/><circle cx="14.1" cy="1.0" r="0.35" fill="#e4e6e7"/><circle cx="17.5" cy="8.0" r="0.45" fill="#e4e6e7"/><circle cx="7.5" cy="8.1" r="0.45" fill="#5d5f61"/><circle cx="0.5" cy="11.0" r="0.62" fill="#4a4c4e"/><circle cx="15.1" cy="17.4" r="0.35" fill="#f4f5f5"/><circle cx="6.6" cy="12.0" r="0.38" fill="#76787a"/><circle cx="13.8" cy="14.0" r="0.34" fill="#cfd1d3"/><circle cx="0.8" cy="13.5" r="0.55" fill="#5d5f61"/><circle cx="18.6" cy="15.2" r="0.50" fill="#e4e6e7"/><circle cx="19.0" cy="19.0" r="0.38" fill="#5d5f61"/><circle cx="16.4" cy="7.3" r="0.54" fill="#cfd1d3"/><circle cx="8.7" cy="20.5" r="0.38" fill="#76787a"/><circle cx="17.2" cy="8.0" r="0.53" fill="#cfd1d3"/><circle cx="7.8" cy="23.7" r="0.45" fill="#e4e6e7"/><circle cx="21.5" cy="19.4" r="0.62" fill="#5d5f61"/><circle cx="3.3" cy="0.2" r="0.58" fill="#f4f5f5"/><circle cx="9.7" cy="9.5" r="0.55" fill="#5d5f61"/><circle cx="14.1" cy="3.5" r="0.53" fill="#e4e6e7"/><circle cx="17.4" cy="13.2" r="0.60" fill="#e4e6e7"/><circle cx="1.8" cy="4.6" r="0.60" fill="#76787a"/><circle cx="4.3" cy="13.9" r="0.62" fill="#e4e6e7"/><circle cx="23.3" cy="16.6" r="0.53" fill="#4a4c4e"/><circle cx="20.1" cy="7.7" r="0.36" fill="#e4e6e7"/><circle cx="13.1" cy="18.2" r="0.50" fill="#5d5f61"/><circle cx="16.9" cy="5.2" r="0.43" fill="#5d5f61"/><circle cx="21.4" cy="6.8" r="0.46" fill="#4a4c4e"/><circle cx="4.7" cy="17.6" r="0.61" fill="#76787a"/><circle cx="1.2" cy="1.8" r="0.56" fill="#76787a"/><circle cx="8.2" cy="3.3" r="0.36" fill="#76787a"/><circle cx="15.4" cy="0.4" r="0.40" fill="#4a4c4e"/><circle cx="5.1" cy="7.8" r="0.54" fill="#cfd1d3"/><circle cx="11.7" cy="14.6" r="0.56" fill="#5d5f61"/><circle cx="1.4" cy="9.9" r="0.31" fill="#cfd1d3"/><circle cx="14.7" cy="18.6" r="0.62" fill="#f4f5f5"/><circle cx="6.2" cy="11.1" r="0.30" fill="#e4e6e7"/><circle cx="13.5" cy="23.7" r="0.32" fill="#76787a"/><circle cx="17.0" cy="20.0" r="0.35" fill="#4a4c4e"/><circle cx="3.7" cy="3.4" r="0.55" fill="#4a4c4e"/><circle cx="8.6" cy="8.7" r="0.41" fill="#cfd1d3"/><circle cx="14.1" cy="13.3" r="0.51" fill="#76787a"/><circle cx="13.8" cy="5.5" r="0.50" fill="#cfd1d3"/><circle cx="11.5" cy="0.8" r="0.51" fill="#cfd1d3"/><circle cx="18.5" cy="23.5" r="0.45" fill="#e4e6e7"/><circle cx="8.7" cy="12.7" r="0.39" fill="#e4e6e7"/><circle cx="0.2" cy="11.4" r="0.51" fill="#e4e6e7"/><circle cx="3.6" cy="15.1" r="0.43" fill="#4a4c4e"/><circle cx="22.5" cy="15.0" r="0.34" fill="#76787a"/><circle cx="12.0" cy="13.3" r="0.36" fill="#76787a"/><circle cx="8.8" cy="3.6" r="0.36" fill="#cfd1d3"/><circle cx="20.5" cy="18.7" r="0.47" fill="#e4e6e7"/><circle cx="18.7" cy="5.8" r="0.61" fill="#f4f5f5"/><circle cx="5.1" cy="21.9" r="0.59" fill="#f4f5f5"/><circle cx="11.0" cy="7.8" r="0.59" fill="#4a4c4e"/><circle cx="15.8" cy="0.4" r="0.56" fill="#f4f5f5"/><circle cx="16.2" cy="8.4" r="0.37" fill="#f4f5f5"/><circle cx="9.8" cy="22.1" r="0.60" fill="#cfd1d3"/><circle cx="20.6" cy="0.7" r="0.31" fill="#cfd1d3"/><circle cx="10.4" cy="5.6" r="0.37" fill="#f4f5f5"/><circle cx="15.4" cy="7.2" r="0.62" fill="#5d5f61"/><circle cx="23.6" cy="19.0" r="0.45" fill="#e4e6e7"/><circle cx="22.9" cy="3.3" r="0.40" fill="#4a4c4e"/><circle cx="8.0" cy="11.7" r="0.59" fill="#5d5f61"/><circle cx="7.7" cy="14.6" r="0.61" fill="#5d5f61"/><circle cx="13.9" cy="21.2" r="0.37" fill="#cfd1d3"/><circle cx="8.6" cy="18.7" r="0.58" fill="#5d5f61"/><circle cx="10.4" cy="3.4" r="0.60" fill="#cfd1d3"/><circle cx="0.6" cy="2.7" r="0.61" fill="#4a4c4e"/><circle cx="3.2" cy="7.3" r="0.46" fill="#e4e6e7"/><circle cx="2.3" cy="4.0" r="0.52" fill="#4a4c4e"/><circle cx="9.9" cy="15.4" r="0.51" fill="#f4f5f5"/><circle cx="21.2" cy="23.5" r="0.31" fill="#5d5f61"/><circle cx="4.8" cy="15.1" r="0.30" fill="#5d5f61"/><circle cx="12.1" cy="5.6" r="0.44" fill="#4a4c4e"/><circle cx="17.5" cy="1.2" r="0.59" fill="#4a4c4e"/><circle cx="21.1" cy="2.9" r="0.46" fill="#5d5f61"/><circle cx="12.6" cy="0.1" r="0.37" fill="#76787a"/><circle cx="3.6" cy="17.7" r="0.46" fill="#4a4c4e"/><circle cx="12.7" cy="20.1" r="0.61" fill="#4a4c4e"/><circle cx="8.4" cy="5.2" r="0.61" fill="#5d5f61"/><circle cx="17.6" cy="6.6" r="0.36" fill="#e4e6e7"/><circle cx="6.5" cy="23.2" r="0.36" fill="#4a4c4e"/><circle cx="9.8" cy="13.4" r="0.42" fill="#4a4c4e"/><circle cx="7.8" cy="1.0" r="0.45" fill="#e4e6e7"/><circle cx="13.2" cy="16.6" r="0.61" fill="#cfd1d3"/><circle cx="17.2" cy="9.6" r="0.40" fill="#f4f5f5"/><circle cx="9.2" cy="3.6" r="0.54" fill="#f4f5f5"/><circle cx="19.3" cy="21.6" r="0.50" fill="#5d5f61"/><circle cx="14.6" cy="22.2" r="0.38" fill="#76787a"/><circle cx="17.5" cy="23.8" r="0.56" fill="#cfd1d3"/><circle cx="2.8" cy="20.2" r="0.55" fill="#cfd1d3"/><circle cx="1.2" cy="16.7" r="0.40" fill="#cfd1d3"/><circle cx="10.6" cy="16.0" r="0.45" fill="#76787a"/><circle cx="0.0" cy="17.9" r="0.57" fill="#76787a"/><circle cx="8.2" cy="13.1" r="0.42" fill="#cfd1d3"/><circle cx="19.0" cy="20.9" r="0.41" fill="#4a4c4e"/><circle cx="9.4" cy="12.6" r="0.50" fill="#cfd1d3"/><circle cx="19.8" cy="1.7" r="0.56" fill="#cfd1d3"/><circle cx="5.4" cy="14.7" r="0.38" fill="#f4f5f5"/><circle cx="20.6" cy="8.3" r="0.49" fill="#76787a"/></pattern></defs><rect x="5.8" y="12.7" width="735.6" height="491.5" fill="none" stroke="#7d7d7d" stroke-width="1" stroke-dasharray="3.4 1.2"/>
<circle cx="372.4" cy="70.3" r="4.4" fill="#e2131b"/>
<text x="386" y="77.5" font-family="'Liberation Sans','Noto Sans CJK SC',sans-serif" font-size="14.5" font-weight="bold" fill="#1a1a1a" text-anchor="start" textLength="322.4" lengthAdjust="spacing">洛阳大华可以为客户设计规划并提供50-5000t/h</text>
<text x="385.8" y="104.2" font-family="'Liberation Sans','Noto Sans CJK SC',sans-serif" font-size="14.5" font-weight="bold" fill="#1a1a1a" text-anchor="start" textLength="326.6" lengthAdjust="spacing">砂石骨料生产线全套解决方案及项目总体承包方案</text>
<polygon points="32.2,36.9 65.2,37.6 65.2,41.6 57.1,46.3 39.6,46.3 34.2,38.9" fill="#b9bcc0" />
<polygon points="20.5,50.4 21.4,41.6 23.5,36.2 31.5,35.6 34.2,39.6 38.9,47 49,47 49,52.4 36.9,52.8" fill="#e9ad1d" />
<polygon points="23,35.6 32.5,34.9 33.5,36.6 23.5,36.6" fill="#c4c6c8" />
<rect x="24.1" y="37.4" width="3.2" height="4" fill="#f4f4f4" />
<rect x="27.8" y="37.4" width="2.6" height="4" fill="#f4f4f4" />
<polygon points="42.2,17.9 43.3,17.3 48.8,25.3 67.2,51.7 64.2,54.1 50.4,47 43.9,36.2 46.2,25.4" fill="#e8262d" />
<polygon points="47.6,25.4 48.8,25.3 67.2,51.7 66.2,52.5" fill="#cf2029" />
<circle cx="29.9" cy="51" r="4.8" fill="#4b4b50"/>
<circle cx="29.9" cy="51" r="2.3" fill="#2c2c30"/>
<circle cx="51.5" cy="51.4" r="4.8" fill="#4b4b50"/>
<circle cx="51.5" cy="51.4" r="2.3" fill="#2c2c30"/>
<rect x="56.5" y="79.4" width="43.5" height="35.6" fill="none" stroke="#dcdcdc" stroke-width="0.6" />
<polygon points="56.5,82 95.3,82 100,98.8 95.3,112.6 82.5,112.6 63.8,105.2" fill="#4c7cc2" />
<polygon points="66,84 93,84 91.5,91.5 71,93" fill="#3f68ad" />
<polygon points="66,84 93,84 92.6,86 66.8,86" fill="#2f4f8c" />
<polygon points="92.4,84 95.2,83 99.2,98.8 94.2,103" fill="#7ea3dd" />
<polygon points="56.5,82.5 61,83 71,108 63.8,105.2" fill="#355c9e" />
<polygon points="63,83.4 65.6,83.4 78.6,109.8 76,110.6" fill="#7499d2" />
<polygon points="69,86 71,86 82.6,105 82.6,109" fill="#33569a" />
<polygon points="60.2,83.2 61.8,83.2 73.6,109.4 72,108.8" fill="#2c4a86" />
<polygon points="66.6,84 68,84 81,108 79.6,109.6" fill="#2f4f8c" />
<polygon points="82.5,102.5 93.8,98.5 95.3,112.6 82.5,112.6" fill="#8b9cb8" />
<polygon points="83.6,104.6 92.4,101.6 93.2,108.4 84,111.2" fill="#4a5570" />
<polygon points="84.6,108 92.8,105.4 93.2,108.4 84.4,111" fill="#aab3c2" />
<polygon points="56,81.4 95.6,81.4 95.6,83.6 56,83.6" fill="#6f97d4" />
<circle cx="75.5" cy="92.5" r="2.3" fill="#c9a77a"/>
<circle cx="79.5" cy="94.5" r="2.5" fill="#8d6f4e"/>
<circle cx="83" cy="93" r="2.1" fill="#d8c09a"/>
<circle cx="78.5" cy="98.5" r="2.2" fill="#b08a5c"/>
<circle cx="83.5" cy="97.5" r="2.1" fill="#e0d2b4"/>
<circle cx="74" cy="96.5" r="1.7" fill="#7b6044"/>
<circle cx="86" cy="100.5" r="1.7" fill="#c2b28e"/>
<circle cx="88.6" cy="101.2" r="1.5" fill="#dedede"/>
<circle cx="81" cy="101.5" r="1.6" fill="#9c8462"/>
<circle cx="66" cy="81" r="1.3" fill="#cfd3d8"/>
<circle cx="74.5" cy="80.8" r="1.1" fill="#b9bdc4"/>
<rect x="72.3" y="111.3" width="2.7" height="3.5" fill="#1a1a1a" />
<rect x="89" y="113.6" width="3.5" height="2.6" fill="#1a1a1a" />
<polygon points="102.4,129.4 180,129.4 181.1,137.5 178.2,142.4 103.1,142.4" fill="#4eaec4" />
<polygon points="115.2,142.2 123.9,154.3 135.4,154.3 150.2,144.2 150.2,142.2" fill="#4eaec4" />
<rect x="102.4" y="129.4" width="77.6" height="1.2" fill="#3c93ab" />
<rect x="119.9" y="139" width="20.2" height="1" fill="#d9434b" />
<rect x="125.3" y="134.4" width="8" height="1.6" fill="#e8f3f6" />
<ellipse cx="126.4" cy="148.9" rx="1.9" ry="3" fill="#e8262d"/>
<circle cx="130.5" cy="149" r="2.2" fill="#5bb3ca"/>
<circle cx="175.1" cy="139.5" r="1.3" fill="#1a1a1a"/>
<rect x="160.3" y="140.7" width="8.1" height="1.7" fill="#3a7f92" />
<rect x="150" y="130.6" width="0.5" height="10" fill="#3f97b0" />
<rect x="156" y="130.6" width="0.5" height="10" fill="#3f97b0" />
<rect x="162" y="130.6" width="0.5" height="10" fill="#3f97b0" />
<rect x="166" y="130.6" width="0.5" height="10" fill="#3f97b0" />
<rect x="170" y="130.6" width="0.5" height="10" fill="#3f97b0" />
<polygon points="187.8,148.9 193.2,144.2 197.2,147.6 206.6,146.9 231.5,151.6 236.9,160.4 236.2,167.1 228.2,175.9 195.9,175.9 192.5,156.3" fill="#1f9ad9" />
<rect x="205.3" y="175.6" width="6" height="2.2" fill="#e8262d" />
<circle cx="219.1" cy="144.9" r="12.8" fill="#e8212b"/>
<circle cx="227.41" cy="147.13" r="0.9" fill="#f6d6d6"/>
<circle cx="221.33" cy="153.21" r="0.9" fill="#f6d6d6"/>
<circle cx="213.02" cy="150.98" r="0.9" fill="#f6d6d6"/>
<circle cx="210.79" cy="142.67" r="0.9" fill="#f6d6d6"/>
<circle cx="216.87" cy="136.59" r="0.9" fill="#f6d6d6"/>
<circle cx="225.18" cy="138.82" r="0.9" fill="#f6d6d6"/>
<rect x="217.4" y="144.4" width="3.6" height="0.9" fill="#7a1418" />
<rect x="199.2" y="162.3" width="18.2" height="1" fill="#d9eefa" />
<rect x="195.9" y="151.6" width="3.4" height="3.6" fill="#cfe8f7" />
<polygon points="214.4,167.8 217.6,167.8 216.6,171.8 214,171.8" fill="#f2f2f2" />
<rect x="214" y="168" width="1.4" height="3.6" fill="#e8262d" />
<circle cx="226.1" cy="165.1" r="1.6" fill="#8b2a3a"/>
<rect x="202" y="165.5" width="2" height="1.2" fill="#176fa0" />
<rect x="206" y="165.5" width="2" height="1.2" fill="#176fa0" />
<circle cx="192.6" cy="150.6" r="0.9" fill="#e8262d"/>
<polyline points="198.5,221.8 236.8,205.8 274.5,221.8" fill="none" stroke="#9fc0cc" stroke-width="0.7"/>
<polygon points="194.4,221.8 198.5,221.8 200.5,233.6 193.7,233.6" fill="#45abc6" />
<polygon points="274.5,221.8 278.5,221.8 279.2,233.6 272.5,233.6" fill="#45abc6" />
<polygon points="198.5,222.8 209.3,233.6 200.1,233.6" fill="url(#spk)" />
<polygon points="274.5,222.8 263.7,233.6 272.9,233.6" fill="url(#spk)" />
<polygon points="236.3,217.2 257.7,233.6 214.9,233.6" fill="url(#spk)" />
<rect x="193.7" y="233.3" width="16.6" height="1.9" fill="#45abc6" />
<rect x="213.5" y="233.3" width="45.6" height="1.9" fill="#45abc6" />
<rect x="262.7" y="233.3" width="16.5" height="1.9" fill="#45abc6" />
<polyline points="574.6,229.2 612.3,212.7 650,229.2" fill="none" stroke="#9fc0cc" stroke-width="0.7"/>
<polygon points="570,229.2 574.6,229.2 576.6,240.9 569.3,240.9" fill="#45abc6" />
<polygon points="650,229.2 654.2,229.2 654.9,240.9 648,240.9" fill="#45abc6" />
<polygon points="574.6,230.2 585.4,240.9 576.2,240.9" fill="url(#spk)" />
<polygon points="650,230.2 639.2,240.9 648.4,240.9" fill="url(#spk)" />
<polygon points="612.15,223.9 633.5,240.9 590.8,240.9" fill="url(#spk)" />
<rect x="569.3" y="240.6" width="17.1" height="1.9" fill="#45abc6" />
<rect x="589.4" y="240.6" width="45.5" height="1.9" fill="#45abc6" />
<rect x="638.2" y="240.6" width="16.7" height="1.9" fill="#45abc6" />
<path transform="translate(202.5 249.5)" d="M0,1.5 L4,0 L26.9,0 L27.6,4 L18.4,4.5 Q14.4,5.4 12.6,9.6 Q11.6,11.8 10,11.9 L8,11.9 Q7,11.8 6.2,9.4 L4.6,6 L0,4.7 Z" fill="#45abc6"/>
<rect x="202.2" y="247.9" width="0.7" height="2.6" fill="#d9434b" />
<rect x="203.7" y="247.9" width="0.6" height="2.2" fill="#d9434b" />
<rect x="220.3" y="246.3" width="1" height="3.2" fill="#d9434b" />
<path transform="translate(238.2 249.5)" d="M0,1.5 L4,0 L26.9,0 L27.6,4 L18.4,4.5 Q14.4,5.4 12.6,9.6 Q11.6,11.8 10,11.9 L8,11.9 Q7,11.8 6.2,9.4 L4.6,6 L0,4.7 Z" fill="#45abc6"/>
<rect x="237.9" y="247.9" width="0.7" height="2.6" fill="#d9434b" />
<rect x="239.4" y="247.9" width="0.6" height="2.2" fill="#d9434b" />
<rect x="256" y="246.3" width="1" height="3.2" fill="#d9434b" />
<path transform="translate(338.7 266.8)" d="M0,1.5 L4,0 L26.9,0 L27.6,4 L18.4,4.5 Q14.4,5.4 12.6,9.6 Q11.6,11.8 10,11.9 L8,11.9 Q7,11.8 6.2,9.4 L4.6,6 L0,4.7 Z" fill="#45abc6"/>
<rect x="338.4" y="265.2" width="0.7" height="2.6" fill="#d9434b" />
<rect x="339.9" y="265.2" width="0.6" height="2.2" fill="#d9434b" />
<rect x="356.5" y="263.6" width="1" height="3.2" fill="#d9434b" />
<path transform="translate(596.2 254.7)" d="M0,1.5 L4,0 L26.9,0 L27.6,4 L18.4,4.5 Q14.4,5.4 12.6,9.6 Q11.6,11.8 10,11.9 L8,11.9 Q7,11.8 6.2,9.4 L4.6,6 L0,4.7 Z" fill="#45abc6"/>
<rect x="595.9" y="253.1" width="0.7" height="2.6" fill="#d9434b" />
<rect x="597.4" y="253.1" width="0.6" height="2.2" fill="#d9434b" />
<rect x="614" y="251.5" width="1" height="3.2" fill="#d9434b" />
<rect x="341.2" y="244.5" width="3" height="12.2" fill="#47aec7" />
<rect x="358.3" y="246" width="3.1" height="12.7" fill="#47aec7" />
<rect x="371" y="239" width="2.5" height="12.3" fill="#79c9da" />
<rect x="352.5" y="240" width="2" height="9" fill="#3c97ae" />
<polygon points="340.2,226.4 361.4,227.8 361.4,246.6 340.2,245" fill="#47aec7" />
<polygon points="361.4,227.8 373.5,221.8 373.5,239.5 361.4,246.6" fill="#79c9da" />
<polygon points="340.2,226.4 352.3,221 373.5,221.8 361.4,227.8" fill="#5fbdd2" />
<polygon points="346.5,225.6 354.5,222.2 368.2,222.8 360.4,226.4" fill="#d9dcdc" />
<polygon points="349.5,225.2 355.5,222.8 365.2,223.3 359.6,225.7" fill="#b7bbbc" />
<rect x="303.9" y="288.5" width="25.1" height="14.2" fill="#49aec1" />
<rect x="307.3" y="302.7" width="18.2" height="7" fill="#49aec1" />
<rect x="306.4" y="312.3" width="20.2" height="7" fill="#49aec1" />
<rect x="303.4" y="319" width="26.7" height="2.4" fill="#49aec1" />
<rect x="303.4" y="321.4" width="4" height="12.6" fill="#49aec1" />
<rect x="326" y="321.4" width="4.2" height="12.6" fill="#49aec1" />
<polygon points="311.6,321.4 322.2,321.4 318.8,327.6 315,327.6" fill="#49aec1" />
<rect x="314.2" y="327.6" width="5.4" height="2.6" fill="#49aec1" />
<rect x="303" y="330.2" width="27.2" height="3.8" fill="#49aec1" />
<rect x="304.2" y="309.7" width="24.3" height="2.6" fill="#e8262d" />
<rect x="311" y="291.6" width="8" height="1.1" fill="#e6c8c8" />
<rect x="306.5" y="296.8" width="18" height="1.2" fill="#d4edf3" />
<rect x="303.9" y="301.5" width="25.1" height="0.8" fill="#35899f" />
<rect x="306.4" y="318.4" width="20.2" height="0.7" fill="#35899f" />
<circle cx="316.5" cy="306.4" r="0.7" fill="#1a1a1a"/>
<circle cx="305.4" cy="320.2" r="0.7" fill="#1a1a1a"/>
<circle cx="328" cy="320.2" r="0.7" fill="#1a1a1a"/>
<rect x="366" y="291" width="23" height="1.8" fill="#49aec1" />
<polygon points="360,293.4 361,292.5 396,292.5 396,303 360,303" fill="#49aec1" />
<rect x="358.5" y="303" width="36.2" height="5.2" fill="#49aec1" />
<polygon points="357.5,308 394,308 394,318 399,319 399,324.4 397,331 378,331 377,328 357,323.4 356,319" fill="#49aec1" />
<rect x="396.5" y="296.5" width="5" height="7.6" fill="#42927a" />
<rect x="397.6" y="297.4" width="0.8" height="6" fill="#2f6f5c" />
<rect x="399.6" y="297.4" width="0.8" height="6" fill="#2f6f5c" />
<rect x="400" y="316" width="6.5" height="12" fill="#6d7579" />
<rect x="399" y="319" width="2.1" height="6.2" fill="#e0262d" />
<rect x="367.5" y="300" width="21" height="1" fill="#d9434b" />
<circle cx="368.4" cy="300.4" r="0.9" fill="#d9434b"/>
<rect x="360" y="296.2" width="36" height="0.7" fill="#358c9f" />
<rect x="358.5" y="303" width="36.2" height="0.7" fill="#358c9f" />
<rect x="357.5" y="307.6" width="36.5" height="0.7" fill="#358c9f" />
<rect x="361.2" y="308.4" width="0.7" height="13" fill="#358c9f" />
<rect x="380.3" y="308.4" width="0.7" height="13" fill="#358c9f" />
<rect x="391.3" y="308.4" width="0.7" height="13" fill="#358c9f" />
<rect x="361.5" y="293.6" width="3" height="2.2" fill="#358c9f" />
<rect x="391.5" y="293.6" width="3" height="2.2" fill="#358c9f" />
<rect x="357" y="321.6" width="40" height="0.7" fill="#358c9f" />
<rect x="379" y="326.6" width="18" height="0.7" fill="#358c9f" />
<circle cx="360.4" cy="308.2" r="0.8" fill="#1f2a2e"/>
<circle cx="380.6" cy="308.2" r="0.8" fill="#1f2a2e"/>
<circle cx="391.6" cy="308.2" r="0.8" fill="#1f2a2e"/>
<rect x="435.75" y="288.4" width="0.7" height="16.2" fill="#a8cdea" />
<rect x="451" y="288.4" width="0.7" height="16.2" fill="#a8cdea" />
<rect x="466.25" y="288.4" width="0.7" height="16.2" fill="#a8cdea" />
<path d="M435.8,301.6 Q443.58,297.6 451.35,301.6 Q459.12,297.6 466.9,301.6" fill="none" stroke="#c9d6de" stroke-width="0.5"/>
<rect x="435.8" y="272.1" width="31.1" height="16.3" fill="#1f8fd6" />
<polygon points="435.8,288.4 451.15,288.4 443.58,301.1" fill="#1f8fd6" />
<polygon points="451.55,288.4 466.9,288.4 459.12,301.1" fill="#1f8fd6" />
<rect x="438.38" y="274.1" width="0.5" height="14.3" fill="#4aa7e3" />
<rect x="441.2" y="274.1" width="0.5" height="14.3" fill="#4aa7e3" />
<rect x="444.03" y="274.1" width="0.5" height="14.3" fill="#4aa7e3" />
<rect x="446.86" y="274.1" width="0.5" height="14.3" fill="#4aa7e3" />
<rect x="449.69" y="274.1" width="0.5" height="14.3" fill="#4aa7e3" />
<rect x="452.51" y="274.1" width="0.5" height="14.3" fill="#4aa7e3" />
<rect x="455.34" y="274.1" width="0.5" height="14.3" fill="#4aa7e3" />
<rect x="458.17" y="274.1" width="0.5" height="14.3" fill="#4aa7e3" />
<rect x="461" y="274.1" width="0.5" height="14.3" fill="#4aa7e3" />
<rect x="463.82" y="274.1" width="0.5" height="14.3" fill="#4aa7e3" />
<rect x="436.61" y="274.5" width="1.2" height="1" fill="#245a86" />
<rect x="439.44" y="274.5" width="1.2" height="1" fill="#245a86" />
<rect x="442.27" y="274.5" width="1.2" height="1" fill="#245a86" />
<rect x="445.1" y="274.5" width="1.2" height="1" fill="#245a86" />
<rect x="447.92" y="274.5" width="1.2" height="1" fill="#245a86" />
<rect x="450.75" y="274.5" width="1.2" height="1" fill="#245a86" />
<rect x="453.58" y="274.5" width="1.2" height="1" fill="#245a86" />
<rect x="456.4" y="274.5" width="1.2" height="1" fill="#245a86" />
<rect x="459.23" y="274.5" width="1.2" height="1" fill="#245a86" />
<rect x="462.06" y="274.5" width="1.2" height="1" fill="#245a86" />
<rect x="464.89" y="274.5" width="1.2" height="1" fill="#245a86" />
<rect x="435.8" y="288" width="31.1" height="0.8" fill="#1877b6" />
<ellipse cx="463.4" cy="271.5" rx="2.6" ry="0.9" fill="#e4e4e4" stroke="#b9a79a" stroke-width="0.4"/>
<rect x="559.25" y="310.2" width="0.7" height="15" fill="#a8cdea" />
<rect x="576.1" y="310.2" width="0.7" height="15" fill="#a8cdea" />
<rect x="592.95" y="310.2" width="0.7" height="15" fill="#a8cdea" />
<path d="M559.3,322.2 Q567.88,318.2 576.45,322.2 Q585.03,318.2 593.6,322.2" fill="none" stroke="#c9d6de" stroke-width="0.5"/>
<rect x="559.3" y="292.7" width="34.3" height="17.5" fill="#1f8fd6" />
<polygon points="559.3,310.2 576.25,310.2 567.88,322" fill="#1f8fd6" />
<polygon points="576.65,310.2 593.6,310.2 585.03,322" fill="#1f8fd6" />
<rect x="561.69" y="294.7" width="0.5" height="15.5" fill="#4aa7e3" />
<rect x="564.33" y="294.7" width="0.5" height="15.5" fill="#4aa7e3" />
<rect x="566.97" y="294.7" width="0.5" height="15.5" fill="#4aa7e3" />
<rect x="569.6" y="294.7" width="0.5" height="15.5" fill="#4aa7e3" />
<rect x="572.24" y="294.7" width="0.5" height="15.5" fill="#4aa7e3" />
<rect x="574.88" y="294.7" width="0.5" height="15.5" fill="#4aa7e3" />
<rect x="577.52" y="294.7" width="0.5" height="15.5" fill="#4aa7e3" />
<rect x="580.16" y="294.7" width="0.5" height="15.5" fill="#4aa7e3" />
<rect x="582.8" y="294.7" width="0.5" height="15.5" fill="#4aa7e3" />
<rect x="585.43" y="294.7" width="0.5" height="15.5" fill="#4aa7e3" />
<rect x="588.07" y="294.7" width="0.5" height="15.5" fill="#4aa7e3" />
<rect x="590.71" y="294.7" width="0.5" height="15.5" fill="#4aa7e3" />
<rect x="560.02" y="295.1" width="1.2" height="1" fill="#245a86" />
<rect x="562.66" y="295.1" width="1.2" height="1" fill="#245a86" />
<rect x="565.3" y="295.1" width="1.2" height="1" fill="#245a86" />
<rect x="567.93" y="295.1" width="1.2" height="1" fill="#245a86" />
<rect x="570.57" y="295.1" width="1.2" height="1" fill="#245a86" />
<rect x="573.21" y="295.1" width="1.2" height="1" fill="#245a86" />
<rect x="575.85" y="295.1" width="1.2" height="1" fill="#245a86" />
<rect x="578.49" y="295.1" width="1.2" height="1" fill="#245a86" />
<rect x="581.13" y="295.1" width="1.2" height="1" fill="#245a86" />
<rect x="583.77" y="295.1" width="1.2" height="1" fill="#245a86" />
<rect x="586.4" y="295.1" width="1.2" height="1" fill="#245a86" />
<rect x="589.04" y="295.1" width="1.2" height="1" fill="#245a86" />
<rect x="591.68" y="295.1" width="1.2" height="1" fill="#245a86" />
<rect x="559.3" y="309.8" width="34.3" height="0.8" fill="#1877b6" />
<ellipse cx="590.1" cy="292.1" rx="2.6" ry="0.9" fill="#e4e4e4" stroke="#b9a79a" stroke-width="0.4"/>
<polygon points="419.2,378.5 422.2,379.5 424.2,394.3 422.3,394.3 421.6,388 419.6,388 418.6,394.3 416.6,394.3" fill="#5bb3c6" />
<rect x="417" y="392.8" width="7" height="1.5" fill="#5bb3c6" />
<rect x="418.6" y="383.5" width="4.4" height="1" fill="#5bb3c6" />
<polygon points="447.6,388.5 451.8,390 453.4,394.3 445.8,394.3" fill="#5bb3c6" />
<rect x="448.6" y="391.3" width="2.4" height="2" fill="#fff" />
<polygon points="410.6,355.6 462.3,371.7 464.1,376.9 462.9,379.2 464.1,382.1 462.9,384.4 464.1,387.3 462.3,390.8 457.7,391.9 415,378.1 412.7,360.8" fill="#4aafc2" />
<rect x="419.6" y="366.8" width="4.6" height="3.3" fill="#2f3436" />
<rect x="421" y="367.4" width="1.3" height="2" fill="#c96a2a" />
<rect x="447.3" y="376" width="4.6" height="3.5" fill="#2f3436" />
<rect x="448.7" y="376.7" width="1.3" height="2.1" fill="#c96a2a" />
<line x1="429.4" y1="378.7" x2="442.7" y2="382.7" stroke="#d9434b" stroke-width="0.8"/>
<polygon points="430.6,366 440.4,369 440.4,376.5 430.6,373.5" fill="none" stroke="#6cc0d2" stroke-width="0.6"/>
<ellipse cx="435.5" cy="371.2" rx="3" ry="2.2" fill="none" stroke="#6cc0d2" stroke-width="0.6" transform="rotate(17 435.5 371.2)"/>
<circle cx="457.8" cy="387.8" r="0.7" fill="#1a1a1a"/>
<polygon points="358.5,405.4 362.1,403.9 405.4,412 413.5,410.5 414.9,405.4 417.1,405.8 412,425.9 408.3,425.2 388.5,418.6 366.5,414.2 365.8,415.6 363.6,413.5 358.5,412" fill="#45abc6" />
<line x1="368.7" y1="411.3" x2="386.3" y2="414.9" stroke="#d9434b" stroke-width="0.9"/>
<polyline points="362.1,404.5 405.4,412.6" fill="none" stroke="#8fd0de" stroke-width="0.8"/>
<line x1="392" y1="416" x2="399" y2="414.3" stroke="#d9434b" stroke-width="0.5"/>
<polygon points="596.9,406.9 600.5,405.4 643.8,413.5 651.9,412 653.3,406.9 655.5,407.3 650.4,427.4 646.7,426.7 626.9,420.1 604.9,415.7 604.2,417.1 602,415 596.9,413.5" fill="#57aec4" />
<line x1="607.1" y1="412.8" x2="624.7" y2="416.4" stroke="#d9434b" stroke-width="0.9"/>
<polyline points="600.5,406 643.8,414.1" fill="none" stroke="#8fd0de" stroke-width="0.8"/>
<line x1="630.4" y1="417.5" x2="637.4" y2="415.8" stroke="#d9434b" stroke-width="0.5"/>
<polygon points="623.9,366 626.5,366 627.7,392.3 622.7,392.3" fill="none" stroke="#b2b6ba" stroke-width="1.2"/>
<line x1="623.3" y1="381.15" x2="627.1" y2="381.15" stroke="#b2b6ba" stroke-width="0.9"/>
<polygon points="640,382.3 643.8,382.3 645,392.3 638.8,392.3" fill="none" stroke="#b2b6ba" stroke-width="1.2"/>
<line x1="639.4" y1="389.3" x2="644.4" y2="389.3" stroke="#b2b6ba" stroke-width="0.9"/>
<polygon points="662.4,378 665.3,378 666.5,392.3 661.2,392.3" fill="none" stroke="#b2b6ba" stroke-width="1.2"/>
<line x1="661.8" y1="387.15" x2="665.9" y2="387.15" stroke="#b2b6ba" stroke-width="0.9"/>
<polygon points="617.3,355.3 671.6,376.6 671.6,391.6 617.3,370.8" fill="#2596d6" />
<line x1="617.3" y1="356.3" x2="671.6" y2="377.6" stroke="#4fb0e6" stroke-width="0.7"/>
<rect x="652" y="378.4" width="6.5" height="1" fill="#cfe6f5" transform="rotate(21 655 379)"/>
<rect x="623" y="361" width="1" height="6" fill="#1a6fa8" />
<rect x="626" y="362" width="1" height="6" fill="#1a6fa8" />
<rect x="662" y="377" width="1" height="7" fill="#1a6fa8" />
<rect x="665" y="378" width="1" height="7" fill="#1a6fa8" />
<circle cx="669.8" cy="384.5" r="0.6" fill="#e6d84a"/>
<rect x="623" y="368.5" width="4.5" height="1.2" fill="#8a8f93" />
<rect x="661.5" y="384.5" width="4.8" height="1.2" fill="#8a8f93" />
<line x1="645.2" y1="282.7" x2="703" y2="282.7" stroke="#d6d6d6" stroke-width="0.7"/>
<rect x="635.1" y="300.8" width="17.7" height="10" fill="#fff" />
<rect x="635.1" y="300.8" width="2.6" height="10" fill="#48aec0" />
<rect x="635.5" y="291.1" width="16.9" height="9.3" fill="#fff" stroke="#48aec0" stroke-width="0.95" />
<line x1="641" y1="290.7" x2="641" y2="300.8" stroke="#48aec0" stroke-width="0.95"/>
<line x1="646.9" y1="290.7" x2="646.9" y2="300.8" stroke="#48aec0" stroke-width="0.95"/>
<line x1="635.1" y1="295.75" x2="652.8" y2="295.75" stroke="#48aec0" stroke-width="0.95"/>
<path d="M640.6,310.4 L640.6,305.6 Q640.6,303.3 642.8,303.3 L648.1,303.3 Q650.3,303.3 650.3,305.6 L650.3,310.4 Z" fill="#48aec0"/>
<rect x="642.2" y="305" width="6.5" height="2" fill="#2f8496" />
<rect x="643.8" y="308.3" width="1.8" height="1.1" fill="#d8c63c" />
<rect x="683.5" y="300.8" width="17.4" height="10" fill="#fff" />
<rect x="698.3" y="300.8" width="2.6" height="10" fill="#48aec0" />
<rect x="683.9" y="291.1" width="16.6" height="9.3" fill="#fff" stroke="#48aec0" stroke-width="0.95" />
<line x1="689.3" y1="290.7" x2="689.3" y2="300.8" stroke="#48aec0" stroke-width="0.95"/>
<line x1="695.1" y1="290.7" x2="695.1" y2="300.8" stroke="#48aec0" stroke-width="0.95"/>
<line x1="683.5" y1="295.75" x2="700.9" y2="295.75" stroke="#48aec0" stroke-width="0.95"/>
<path d="M686.7,310.4 L686.7,305.6 Q686.7,303.3 688.9,303.3 L693.8,303.3 Q696,303.3 696,305.6 L696,310.4 Z" fill="#48aec0"/>
<rect x="688.3" y="305" width="6.1" height="2" fill="#2f8496" />
<rect x="691.9" y="308.3" width="1.8" height="1.1" fill="#d8c63c" />
<polygon points="657.2,285.1 678.6,285.1 682.2,296.7 682.7,298.8 682.7,307.6 653.8,307.6 653.8,298.8 654.3,296.7" fill="#48aec0" />
<rect x="653.1" y="297.4" width="30.1" height="1.4" fill="#e0383f" />
<ellipse cx="668" cy="302.3" rx="6.6" ry="2.2" fill="#3a7f8e" stroke="#cfe6ea" stroke-width="0.6"/>
<rect x="664" y="301.7" width="6.5" height="1.2" fill="#d6eaee" />
<circle cx="672.4" cy="302.3" r="0.6" fill="#d9434b"/>
<rect x="663.5" y="288.4" width="8" height="0.9" fill="#d97a80" />
<rect x="656" y="295.2" width="24.6" height="0.7" fill="#2f8496" />
<rect x="635.1" y="310.4" width="65.8" height="3.3" fill="#48aec0" />
<rect x="638.6" y="313.5" width="58.8" height="8.2" fill="#48aec0" />
<rect x="648.7" y="321.6" width="4.1" height="4" fill="#48aec0" />
<rect x="683.7" y="321.6" width="3.8" height="4" fill="#48aec0" />
<rect x="662.4" y="321.6" width="12.2" height="2.6" fill="#48aec0" />
<rect x="635.1" y="313.1" width="65.8" height="0.6" fill="#2f8496" />
<rect x="638.6" y="317.4" width="58.8" height="0.6" fill="#2f8496" />
<rect x="661.4" y="316" width="12.2" height="0.8" fill="#d9434b" />
<rect x="646.5" y="313.5" width="0.7" height="8.2" fill="#2f8496" />
<rect x="655.5" y="313.5" width="0.7" height="8.2" fill="#2f8496" />
<rect x="680.5" y="313.5" width="0.7" height="8.2" fill="#2f8496" />
<rect x="689.5" y="313.5" width="0.7" height="8.2" fill="#2f8496" />
<rect x="655.5" y="307.6" width="25" height="2.8" fill="#2f8496" />
<rect x="658" y="308.2" width="3.6" height="1.6" fill="#222" />
<rect x="674.6" y="308.2" width="3.6" height="1.6" fill="#222" />
<rect x="662.5" y="308.4" width="11" height="1.4" fill="#8fc9d4" />
<polygon points="302,475.5 306.8,475.5 309.2,485.4 299.9,485.4" fill="#45b0c8" />
<polygon points="348.9,475.5 353.7,475.5 355.9,485.4 346.8,485.4" fill="#45b0c8" />
<polygon points="308.4,479.8 327.1,464.9 346.8,479.8 345.7,485.4 309.5,485.4" fill="#5a4d48" />
<polygon points="358.8,475.5 363.6,475.5 366,485.4 356.9,485.4" fill="#45b0c8" />
<polygon points="404.4,475.5 409.2,475.5 411.3,485.4 402.5,485.4" fill="#45b0c8" />
<polygon points="365.4,479.8 383.1,465.4 403.1,479.8 402,485.4 366.5,485.4" fill="url(#spk2)" />
<polygon points="414,475.5 418.8,475.5 421.2,485.4 412,485.4" fill="#45b0c8" />
<polygon points="459.9,475.5 464.7,475.5 466.8,485.4 458,485.4" fill="#45b0c8" />
<polygon points="420.6,479.8 437.8,465.4 458.6,479.8 457.5,485.4 421.7,485.4" fill="url(#spk2)" />
<polygon points="538,473.5 542.6,473.5 545.4,485.2 536,485.2" fill="#45b0c8" />
<polygon points="595.4,473.5 600,473.5 602.8,485.2 593.4,485.2" fill="#45b0c8" />
<polygon points="544.7,477.5 567.5,460.3 594.1,477.5 593,485.2 545.8,485.2" fill="#5a4d48" />
<polygon points="470.7,483.35 471.1,479.58 474.7,479.09 475.3,476.96 479.3,476.79 480.1,479.58 483.9,480.4 484.3,483.52" fill="#e4a91c" />
<polygon points="479.5,478.6 487.3,476.63 487.9,477.61 481.1,480.07" fill="#e4a91c" />
<polygon points="486.9,475.32 488.7,473.51 489.9,475.81 492.7,476.63 489.3,478.6 487.3,477.78" fill="#b98512" />
<polygon points="488.7,473.51 489.9,475.81 492.7,476.63 491.3,474.99" fill="#8e8e92" />
<rect x="476.1" y="477.45" width="2.4" height="2" fill="#f0e4b8" />
<circle cx="474" cy="483.52" r="1.55" fill="#3d3d42"/>
<circle cx="482.5" cy="483.52" r="1.55" fill="#3d3d42"/>
<polygon points="614.7,482.56 615.28,475.84 620.54,474.96 621.42,471.17 627.26,470.88 628.42,475.84 633.97,477.3 634.56,482.85" fill="#e4a91c" />
<polygon points="627.55,474.09 638.94,470.58 639.81,472.34 629.88,476.72" fill="#e4a91c" />
<polygon points="638.35,468.25 640.98,465.04 642.73,469.12 646.82,470.58 641.86,474.09 638.94,472.63" fill="#b98512" />
<polygon points="640.98,465.04 642.73,469.12 646.82,470.58 644.78,467.66" fill="#8e8e92" />
<rect x="622.58" y="472.04" width="3.5" height="2.92" fill="#f0e4b8" />
<circle cx="619.52" cy="482.85" r="2.26" fill="#3d3d42"/>
<circle cx="631.93" cy="482.85" r="2.26" fill="#3d3d42"/>
<path d="M495.7,477.2 Q502.1,471.2 507.5,477.2 Z" fill="#85878b"/>
<rect x="494.1" y="477" width="14.4" height="3.4" fill="#ee2a2f" />
<rect x="497.6" y="480" width="18.6" height="2.4" fill="#e4a91c" />
<polygon points="508.3,475 514.3,475 516.3,477.2 516.3,482.4 508.3,482.4" fill="#e4a91c" />
<rect x="511.7" y="475.8" width="2.6" height="2.6" fill="#ececec" />
<circle cx="497.8" cy="483.4" r="1.75" fill="#35353a"/>
<circle cx="501.6" cy="483.4" r="1.75" fill="#35353a"/>
<circle cx="512.3" cy="483.4" r="1.75" fill="#35353a"/>
<path d="M651.64,473.9 Q660.98,465.14 668.86,473.9 Z" fill="#85878b"/>
<rect x="649.3" y="473.6" width="21.02" height="4.96" fill="#ee2a2f" />
<rect x="654.41" y="477.98" width="27.16" height="3.5" fill="#e4a91c" />
<polygon points="670.03,470.68 678.79,470.68 681.71,473.9 681.71,481.49 670.03,481.49" fill="#e4a91c" />
<rect x="675" y="471.85" width="3.8" height="3.8" fill="#ececec" />
<circle cx="654.7" cy="482.95" r="2.55" fill="#35353a"/>
<circle cx="660.25" cy="482.95" r="2.55" fill="#35353a"/>
<circle cx="675.87" cy="482.95" r="2.55" fill="#35353a"/>
<polyline points="68.1,62.5 68.1,77" fill="none" stroke="#262626" stroke-width="1.4" />
<polygon points="68.1,79.6 66.15,74.6 70.05,74.6" fill="#262626"/>
<polyline points="68.1,74.9 68.1,72.4" fill="none" stroke="#262626" stroke-width="1.4"/>
<path d="M69.3,75.8 h2.4 v3.6 h-2.4" fill="none" stroke="#262626" stroke-width="0.9"/>
<polyline points="98.8,115.6 116.7,115.6 116.7,126" fill="none" stroke="#262626" stroke-width="1.4" />
<polygon points="116.8,129.2 114.85,124.2 118.75,124.2" fill="#262626"/>
<polyline points="116.8,124.5 116.8,122" fill="none" stroke="#262626" stroke-width="1.4"/>
<polyline points="180,133.5 204.9,133.5 204.9,141" fill="none" stroke="#262626" stroke-width="1.4" />
<polygon points="204.9,144.2 202.95,139.2 206.85,139.2" fill="#262626"/>
<polyline points="204.9,139.5 204.9,137" fill="none" stroke="#262626" stroke-width="1.4"/>
<polyline points="144.5,150.3 144.5,162 162,162 162,184" fill="none" stroke="#262626" stroke-width="1.4" stroke-dasharray="10 1.3"/>
<polygon points="144.5,160 142.94,156 146.06,156" fill="#262626"/>
<polyline points="144.5,156.3 144.5,153.8" fill="none" stroke="#262626" stroke-width="1.4"/>
<polygon points="162,186.4 160.25,181.9 163.75,181.9" fill="#262626"/>
<polyline points="162,182.2 162,179.7" fill="none" stroke="#262626" stroke-width="1.4"/>
<polyline points="154,186.7 236.2,186.7" fill="none" stroke="#262626" stroke-width="1.5" />
<path d="M236,186.7 Q237.7,186.9 237.7,189.4 L237.7,201" fill="none" stroke="#262626" stroke-width="1.3"/>
<polygon points="237.6,204.7 235.65,199.7 239.55,199.7" fill="#262626"/>
<polyline points="237.6,200 237.6,197.5" fill="none" stroke="#262626" stroke-width="1.4"/>
<circle cx="153.8" cy="188.8" r="1.9" fill="#fff" stroke="#262626" stroke-width="1"/>
<circle cx="235.7" cy="188.9" r="1.9" fill="#fff" stroke="#262626" stroke-width="1"/>
<polyline points="209.7,177.9 209.7,186.6" fill="none" stroke="#262626" stroke-width="1.4" />
<polygon points="209.7,184 208.14,180 211.26,180" fill="#262626"/>
<polyline points="209.7,180.3 209.7,177.8" fill="none" stroke="#262626" stroke-width="1.4"/>
<polyline points="219.7,235.4 219.7,242" fill="none" stroke="#262626" stroke-width="1.4" />
<polygon points="219.7,244.9 217.75,239.9 221.65,239.9" fill="#262626"/>
<polyline points="219.7,240.2 219.7,237.7" fill="none" stroke="#262626" stroke-width="1.4"/>
<polyline points="255.9,235.4 255.9,242" fill="none" stroke="#262626" stroke-width="1.4" />
<polygon points="255.9,244.9 253.95,239.9 257.85,239.9" fill="#262626"/>
<polyline points="255.9,240.2 255.9,237.7" fill="none" stroke="#262626" stroke-width="1.4"/>
<polyline points="233.5,251.8 236.9,251.8 236.9,265" fill="none" stroke="#262626" stroke-width="1.4" />
<polygon points="236.9,267.2 235.34,263.2 238.46,263.2" fill="#262626"/>
<polyline points="236.9,263.5 236.9,261" fill="none" stroke="#262626" stroke-width="1.4"/>
<polyline points="269.1,251.8 272.7,251.8 272.7,265" fill="none" stroke="#262626" stroke-width="1.4" />
<polygon points="272.7,267.2 271.14,263.2 274.26,263.2" fill="#262626"/>
<polyline points="272.7,263.5 272.7,261" fill="none" stroke="#262626" stroke-width="1.4"/>
<polyline points="231,267.6 311.6,267.6" fill="none" stroke="#262626" stroke-width="1.5" />
<path d="M311.4,267.6 Q313.4,267.8 313.4,270.4 L313.4,284" fill="none" stroke="#262626" stroke-width="1.3"/>
<polygon points="313.4,287.1 311.84,283.1 314.96,283.1" fill="#262626"/>
<polyline points="313.4,283.4 313.4,280.9" fill="none" stroke="#262626" stroke-width="1.4"/>
<circle cx="231" cy="270" r="1.9" fill="#fff" stroke="#262626" stroke-width="1"/>
<circle cx="310.9" cy="270.3" r="1.9" fill="#fff" stroke="#262626" stroke-width="1"/>
<rect x="294.6" y="262.6" width="13" height="4.4" fill="#111" />
<polyline points="358.3,201.7 462.6,201.7" fill="none" stroke="#262626" stroke-width="1.5" />
<circle cx="359.8" cy="204.2" r="1.9" fill="#fff" stroke="#262626" stroke-width="1"/>
<circle cx="461" cy="204.2" r="1.9" fill="#fff" stroke="#262626" stroke-width="1"/>
<polyline points="357.3,204.5 357.3,212.5" fill="none" stroke="#262626" stroke-width="1.4" />
<polygon points="357.3,215.4 355.64,211.15 358.96,211.15" fill="#262626"/>
<polyline points="357.3,211.45 357.3,208.95" fill="none" stroke="#262626" stroke-width="1.4"/>
<rect x="362" y="196.1" width="12.2" height="3.5" fill="#111" />
<polyline points="464.1,377.5 474.3,377.5 474.3,193 453,193 453,198.5" fill="none" stroke="#2c2c2c" stroke-width="1.5" />
<polygon points="453,201.4 451.34,197.15 454.66,197.15" fill="#262626"/>
<polyline points="453,197.45 453,194.95" fill="none" stroke="#262626" stroke-width="1.4"/>
<polyline points="356.9,253.7 356.9,260" fill="none" stroke="#262626" stroke-width="1.4" />
<polygon points="356.9,262.9 354.95,257.9 358.85,257.9" fill="#262626"/>
<polyline points="356.9,258.2 356.9,255.7" fill="none" stroke="#262626" stroke-width="1.4"/>
<polyline points="375.3,271.5 375.3,283.5" fill="none" stroke="#262626" stroke-width="1.4" />
<polygon points="375.2,287 373.25,282 377.15,282" fill="#262626"/>
<polyline points="375.2,282.3 375.2,279.8" fill="none" stroke="#262626" stroke-width="1.4"/>
<polyline points="313.4,335.5 313.4,342" fill="none" stroke="#262626" stroke-width="1.4" />
<polygon points="313.4,344.2 311.74,339.95 315.06,339.95" fill="#262626"/>
<polyline points="313.4,340.25 313.4,337.75" fill="none" stroke="#262626" stroke-width="1.4"/>
<polyline points="384,332.5 384,342" fill="none" stroke="#262626" stroke-width="1.4" />
<polygon points="384,344.2 382.34,339.95 385.66,339.95" fill="#262626"/>
<polyline points="384,340.25 384,337.75" fill="none" stroke="#262626" stroke-width="1.4"/>
<polyline points="300.4,344.4 416.6,344.4" fill="none" stroke="#262626" stroke-width="1.5" />
<path d="M416.4,344.4 Q418.5,344.6 418.5,347.2 L418.5,353" fill="none" stroke="#262626" stroke-width="1.3"/>
<polygon points="418.5,355.6 416.84,351.35 420.16,351.35" fill="#262626"/>
<polyline points="418.5,351.65 418.5,349.15" fill="none" stroke="#262626" stroke-width="1.4"/>
<circle cx="300.7" cy="346.5" r="1.9" fill="#fff" stroke="#262626" stroke-width="1"/>
<circle cx="416.2" cy="346.7" r="1.9" fill="#fff" stroke="#262626" stroke-width="1"/>
<polyline points="464.1,381.8 487.4,381.8 487.4,388" fill="none" stroke="#262626" stroke-width="1.4" />
<polygon points="487.4,391 485.84,387 488.96,387" fill="#262626"/>
<polyline points="487.4,387.3 487.4,384.8" fill="none" stroke="#262626" stroke-width="1.4"/>
<polyline points="464.1,390.2 474.4,390.2 474.4,398" fill="none" stroke="#262626" stroke-width="1.4" />
<polygon points="474.4,400.6 472.84,396.6 475.96,396.6" fill="#262626"/>
<polyline points="474.4,396.9 474.4,394.4" fill="none" stroke="#262626" stroke-width="1.4"/>
<polyline points="427.1,433 427.1,416.3 470.3,416.3 470.3,407.2 474.3,401 477.8,407.2 477.8,418.5" fill="none" stroke="#262626" stroke-width="1.4" />
<polygon points="427.1,434.6 425.54,430.6 428.66,430.6" fill="#262626"/>
<polyline points="427.1,430.9 427.1,428.4" fill="none" stroke="#262626" stroke-width="1.4"/>
<polygon points="477.8,421.6 476.24,417.6 479.36,417.6" fill="#262626"/>
<polyline points="477.8,417.9 477.8,415.4" fill="none" stroke="#262626" stroke-width="1.4"/>
<polyline points="482.9,432 482.9,399 487.4,392 491.1,399 491.1,418.5" fill="none" stroke="#262626" stroke-width="1.4" />
<polygon points="482.9,434.4 481.34,430.4 484.46,430.4" fill="#262626"/>
<polyline points="482.9,430.7 482.9,428.2" fill="none" stroke="#262626" stroke-width="1.4"/>
<polygon points="491.1,421.6 489.54,417.6 492.66,417.6" fill="#262626"/>
<polyline points="491.1,417.9 491.1,415.4" fill="none" stroke="#262626" stroke-width="1.4"/>
<polyline points="472.2,422 493,422" fill="none" stroke="#262626" stroke-width="1.5" />
<polyline points="493,422 531.6,422 531.6,202 613.8,202 613.8,208" fill="none" stroke="#262626" stroke-width="1.55" stroke-dasharray="5.6 1.4" />
<polygon points="613.8,211.2 612.04,206.7 615.55,206.7" fill="#262626"/>
<polyline points="613.8,207 613.8,204.5" fill="none" stroke="#262626" stroke-width="1.4"/>
<circle cx="472.6" cy="424.3" r="1.9" fill="#fff" stroke="#262626" stroke-width="1"/>
<circle cx="528.6" cy="424.3" r="1.9" fill="#fff" stroke="#262626" stroke-width="1"/>
<polyline points="440.3,434.7 488,434.7" fill="none" stroke="#262626" stroke-width="1.5" />
<circle cx="441.1" cy="436.9" r="1.9" fill="#fff" stroke="#262626" stroke-width="1"/>
<circle cx="487" cy="436.9" r="1.9" fill="#fff" stroke="#262626" stroke-width="1"/>
<polyline points="439.5,437 439.5,450" fill="none" stroke="#262626" stroke-width="1.4" />
<polygon points="439.5,452.8 437.84,448.55 441.16,448.55" fill="#262626"/>
<polyline points="439.5,448.85 439.5,446.35" fill="none" stroke="#262626" stroke-width="1.4"/>
<polyline points="385.6,434.7 430.6,434.7" fill="none" stroke="#262626" stroke-width="1.5" />
<circle cx="386.3" cy="437" r="1.9" fill="#fff" stroke="#262626" stroke-width="1"/>
<circle cx="431" cy="437" r="1.9" fill="#fff" stroke="#262626" stroke-width="1"/>
<polyline points="384.2,437 384.2,450" fill="none" stroke="#262626" stroke-width="1.4" />
<polygon points="384.2,452.4 382.54,448.15 385.86,448.15" fill="#262626"/>
<polyline points="384.2,448.45 384.2,445.95" fill="none" stroke="#262626" stroke-width="1.4"/>
<polyline points="329.6,434.7 376.3,434.7" fill="none" stroke="#262626" stroke-width="1.5" />
<circle cx="331" cy="437" r="1.9" fill="#fff" stroke="#262626" stroke-width="1"/>
<circle cx="376.8" cy="437" r="1.9" fill="#fff" stroke="#262626" stroke-width="1"/>
<polyline points="329.2,437 329.2,450" fill="none" stroke="#262626" stroke-width="1.4" />
<polygon points="329.2,452.4 327.54,448.15 330.86,448.15" fill="#262626"/>
<polyline points="329.2,448.45 329.2,445.95" fill="none" stroke="#262626" stroke-width="1.4"/>
<polyline points="371.8,429.3 371.8,434.7" fill="none" stroke="#262626" stroke-width="1.4" />
<polyline points="316.9,284 316.9,280.8 417.6,280.8 417.6,326.8 445,326.8 445,352.5" fill="none" stroke="#262626" stroke-width="1.55" stroke-dasharray="5.6 1.4" />
<polygon points="316.9,287.1 315.44,283.35 318.36,283.35" fill="#262626"/>
<polyline points="316.9,283.65 316.9,281.15" fill="none" stroke="#262626" stroke-width="1.4"/>
<polygon points="445,355.6 443.25,351.1 446.75,351.1" fill="#262626"/>
<polyline points="445,351.4 445,348.9" fill="none" stroke="#262626" stroke-width="1.4"/>
<polyline points="381,280.8 381,284" fill="none" stroke="#262626" stroke-width="1.4" />
<polygon points="381,287 379.34,282.75 382.66,282.75" fill="#262626"/>
<polyline points="381,283.05 381,280.55" fill="none" stroke="#262626" stroke-width="1.4"/>
<polyline points="417.6,280.8 435.4,280.8" fill="none" stroke="#262626" stroke-width="1.55" stroke-dasharray="5.6 1.4" />
<rect x="425.4" y="266.2" width="46.3" height="41.8" fill="none" stroke="#262626" stroke-width="1.55" stroke-dasharray="5.6 1.4"/>
<polyline points="445,350 469.4,350 469.4,395.8 440,395.8" fill="none" stroke="#262626" stroke-width="1.55" stroke-dasharray="5.6 1.4" />
<polygon points="435.6,395.8 440.1,394.05 440.1,397.56" fill="#262626"/>
<polyline points="439.8,395.8 442.3,395.8" fill="none" stroke="#262626" stroke-width="1.4"/>
<polyline points="436,396.4 404.7,397.6 404.7,402.5" fill="none" stroke="#262626" stroke-width="1.4" />
<polygon points="404.7,405.4 403.14,401.4 406.26,401.4" fill="#262626"/>
<polyline points="404.7,401.7 404.7,399.2" fill="none" stroke="#262626" stroke-width="1.4"/>
<rect x="356.7" y="397.6" width="64.8" height="31.7" fill="none" stroke="#262626" stroke-width="1.55" stroke-dasharray="5.6 1.4"/>
<polyline points="614.2,242.7 614.2,247" fill="none" stroke="#262626" stroke-width="1.4" />
<polygon points="614.2,249.8 612.64,245.8 615.76,245.8" fill="#262626"/>
<polyline points="614.2,246.1 614.2,243.6" fill="none" stroke="#262626" stroke-width="1.4"/>
<polyline points="626.2,256.9 631.1,256.9 631.1,264.5" fill="none" stroke="#262626" stroke-width="1.4" />
<polyline points="625.3,265.4 668.6,265.4" fill="none" stroke="#262626" stroke-width="1.55" stroke-dasharray="5.6 1.4" />
<path d="M668.4,265.4 Q670.7,265.6 670.7,268.2 L670.7,279.5" fill="none" stroke="#262626" stroke-width="1.4"/>
<polygon points="670.7,282.5 669.04,278.25 672.36,278.25" fill="#262626"/>
<polyline points="670.7,278.55 670.7,276.05" fill="none" stroke="#262626" stroke-width="1.4"/>
<circle cx="625.4" cy="267.4" r="1.9" fill="#fff" stroke="#262626" stroke-width="1"/>
<circle cx="668.6" cy="267.4" r="1.9" fill="#fff" stroke="#262626" stroke-width="1"/>
<rect x="653.3" y="258.8" width="12.6" height="4.2" fill="#111" />
<polyline points="677.8,279.5 677.8,267.5" fill="none" stroke="#262626" stroke-width="1.4" />
<polygon points="677.8,282.5 676.14,278.25 679.46,278.25" fill="#262626"/>
<polyline points="677.8,278.55 677.8,276.05" fill="none" stroke="#262626" stroke-width="1.4"/>
<polyline points="679,265.4 706.8,265.4 706.8,257.1 722.1,257.1 722.1,389.4" fill="none" stroke="#262626" stroke-width="1.55" stroke-dasharray="5.6 1.4" />
<path d="M677.8,268 Q677.8,265.4 680,265.4" fill="none" stroke="#262626" stroke-width="1.4"/>
<circle cx="711.1" cy="267.3" r="1.9" fill="#fff" stroke="#262626" stroke-width="1"/>
<circle cx="680.2" cy="267.6" r="1.5" fill="#fff" stroke="#262626" stroke-width="1"/>
<polyline points="672.6,379.4 722.3,379.4" fill="none" stroke="#262626" stroke-width="1.55" stroke-dasharray="5.6 1.4" />
<polyline points="672.6,389.4 722.3,389.4" fill="none" stroke="#262626" stroke-width="1.55" stroke-dasharray="5.6 1.4" />
<rect x="543.9" y="281.4" width="57.7" height="51.6" fill="none" stroke="#262626" stroke-width="1.55" stroke-dasharray="5.6 1.4"/>
<polyline points="593.6,294.6 609.1,294.6" fill="none" stroke="#262626" stroke-width="1.55" stroke-dasharray="5.6 1.4" />
<polyline points="660.6,279.5 660.6,275.4 609.1,275.4 609.1,328.6 667.8,328.6 667.8,333" fill="none" stroke="#262626" stroke-width="1.55" stroke-dasharray="5.6 1.4" />
<polygon points="660.6,282.5 658.94,278.25 662.26,278.25" fill="#262626"/>
<polyline points="660.6,278.55 660.6,276.05" fill="none" stroke="#262626" stroke-width="1.4"/>
<polygon points="667.8,337.6 666.14,333.35 669.46,333.35" fill="#262626"/>
<polyline points="667.8,333.65 667.8,331.15" fill="none" stroke="#262626" stroke-width="1.4"/>
<polyline points="626.4,337.8 671,337.8" fill="none" stroke="#262626" stroke-width="1.55" stroke-dasharray="5.6 1.4" />
<circle cx="625.9" cy="339.8" r="1.9" fill="#fff" stroke="#262626" stroke-width="1"/>
<circle cx="671.2" cy="340" r="1.9" fill="#fff" stroke="#262626" stroke-width="1"/>
<polyline points="623.6,341 623.6,352.5" fill="none" stroke="#262626" stroke-width="1.4" />
<polygon points="623.6,355.4 621.94,351.15 625.26,351.15" fill="#262626"/>
<polyline points="623.6,351.45 623.6,348.95" fill="none" stroke="#262626" stroke-width="1.4"/>
<polyline points="648.1,328.6 648.1,352.5" fill="none" stroke="#262626" stroke-width="1.55" stroke-dasharray="5.6 1.4" />
<polygon points="648.1,355.4 646.44,351.15 649.76,351.15" fill="#262626"/>
<polyline points="648.1,351.45 648.1,348.95" fill="none" stroke="#262626" stroke-width="1.4"/>
<polyline points="648.1,347.8 690.1,347.8 690.1,397.6 645.1,397.6" fill="none" stroke="#262626" stroke-width="1.55" stroke-dasharray="5.6 1.4" />
<polyline points="645.1,397.6 645.1,402.5" fill="none" stroke="#262626" stroke-width="1.5" />
<polygon points="645.1,405.6 643.44,401.35 646.76,401.35" fill="#262626"/>
<polyline points="645.1,401.65 645.1,399.15" fill="none" stroke="#262626" stroke-width="1.4"/>
<rect x="593.1" y="397.5" width="66.5" height="32.1" fill="none" stroke="#262626" stroke-width="1.55" stroke-dasharray="5.6 1.4"/>
<polyline points="609.7,429.6 609.7,434.8" fill="none" stroke="#262626" stroke-width="1.4" />
<polyline points="572.8,434.8 617.6,434.8" fill="none" stroke="#262626" stroke-width="1.55" stroke-dasharray="5.6 1.4" />
<circle cx="572.8" cy="437" r="1.9" fill="#fff" stroke="#262626" stroke-width="1"/>
<circle cx="618" cy="437" r="1.9" fill="#fff" stroke="#262626" stroke-width="1"/>
<polyline points="571.6,437.5 571.6,448" fill="none" stroke="#262626" stroke-width="1.4" />
<polygon points="571.6,451 569.94,446.75 573.26,446.75" fill="#262626"/>
<polyline points="571.6,447.05 571.6,444.55" fill="none" stroke="#262626" stroke-width="1.4"/>
<text x="157.6" y="121.4" font-size="10.5" font-weight="normal" fill="#303030" stroke="#303030" stroke-width="0.45" text-anchor="start" >G1</text>
<text x="242.4" y="150.8" font-size="10.5" font-weight="normal" fill="#303030" stroke="#303030" stroke-width="0.45" text-anchor="start" >P1</text>
<text x="212.6" y="202.2" font-size="10.5" font-weight="normal" fill="#303030" stroke="#303030" stroke-width="0.45" text-anchor="start" >B1</text>
<text x="225.6" y="248.4" font-size="10.5" font-weight="normal" fill="#303030" stroke="#303030" stroke-width="0.45" text-anchor="start" >G2</text>
<text x="290.8" y="260.6" font-size="10.5" font-weight="normal" fill="#303030" stroke="#303030" stroke-width="0.45" text-anchor="start" >C1</text>
<text x="291.4" y="281.3" font-size="10.5" font-weight="normal" fill="#303030" stroke="#303030" stroke-width="0.45" text-anchor="start" >B2</text>
<text x="357.6" y="196.2" font-size="10.5" font-weight="normal" fill="#303030" stroke="#303030" stroke-width="0.45" text-anchor="start" >G2</text>
<text x="359.2" y="214.6" font-size="10.5" font-weight="normal" fill="#303030" stroke="#303030" stroke-width="0.45" text-anchor="start" >B4</text>
<text x="371.6" y="271.8" font-size="10.5" font-weight="normal" fill="#303030" stroke="#303030" stroke-width="0.45" text-anchor="start" >G3</text>
<text x="330.6" y="311.9" font-size="10.5" font-weight="normal" fill="#303030" stroke="#303030" stroke-width="0.45" text-anchor="start" >P2</text>
<text x="401.4" y="313.2" font-size="10.5" font-weight="normal" fill="#303030" stroke="#303030" stroke-width="0.45" text-anchor="start" >P3</text>
<text x="390.2" y="356.6" font-size="10.5" font-weight="normal" fill="#303030" stroke="#303030" stroke-width="0.45" text-anchor="start" >B3</text>
<text x="389" y="376.6" font-size="10.5" font-weight="normal" fill="#303030" stroke="#303030" stroke-width="0.45" text-anchor="start" >S1</text>
<text x="424.2" y="413.6" font-size="10.5" font-weight="normal" fill="#303030" stroke="#303030" stroke-width="0.45" text-anchor="start" >XI1</text>
<text x="493" y="434.8" font-size="10.5" font-weight="normal" fill="#303030" stroke="#303030" stroke-width="0.45" text-anchor="start" >B9</text>
<text x="444.6" y="450.4" font-size="10.5" font-weight="normal" fill="#303030" stroke="#303030" stroke-width="0.45" text-anchor="start" >B5</text>
<text x="389" y="448.9" font-size="10.5" font-weight="normal" fill="#303030" stroke="#303030" stroke-width="0.45" text-anchor="start" >B6</text>
<text x="332.6" y="448.9" font-size="10.5" font-weight="normal" fill="#303030" stroke="#303030" stroke-width="0.45" text-anchor="start" >B7</text>
<text x="573.4" y="263" font-size="10.5" font-weight="normal" fill="#303030" stroke="#303030" stroke-width="0.45" text-anchor="start" >G4</text>
<text x="649" y="258.4" font-size="10.5" font-weight="normal" fill="#303030" stroke="#303030" stroke-width="0.45" text-anchor="start" >C1</text>
<text x="640.4" y="274.8" font-size="10.5" font-weight="normal" fill="#303030" stroke="#303030" stroke-width="0.45" text-anchor="start" >B10</text>
<text x="679.4" y="275.8" font-size="10.5" font-weight="normal" fill="#303030" stroke="#303030" stroke-width="0.45" text-anchor="start" >B12</text>
<text x="618.8" y="306.3" font-size="10.5" font-weight="normal" fill="#303030" stroke="#303030" stroke-width="0.45" text-anchor="start" >P4</text>
<text x="598.6" y="367" font-size="10.5" font-weight="normal" fill="#303030" stroke="#303030" stroke-width="0.45" text-anchor="start" >S2</text>
<text x="660.2" y="424" font-size="10.5" font-weight="normal" fill="#303030" stroke="#303030" stroke-width="0.45" text-anchor="start" >XL2</text>
<text x="573.8" y="450.6" font-size="10.5" font-weight="normal" fill="#303030" stroke="#303030" stroke-width="0.45" text-anchor="start" >B13</text>
<text x="629.6" y="346.1" font-size="8" font-weight="bold" fill="#303030" stroke="#303030" stroke-width="0.25" text-anchor="start" textLength="10.6" lengthAdjust="spacingAndGlyphs">B11</text>
<text x="309.2" y="497.5" font-size="10" font-weight="bold" fill="#3c3c3c" stroke="#3c3c3c" stroke-width="0" text-anchor="start" textLength="31.4" lengthAdjust="spacingAndGlyphs">0-5mm</text>
<text x="363.6" y="496.4" font-size="10" font-weight="bold" fill="#3c3c3c" stroke="#3c3c3c" stroke-width="0" text-anchor="start" textLength="36.2" lengthAdjust="spacingAndGlyphs">5-10mm</text>
<text x="413.2" y="496.4" font-size="10" font-weight="bold" fill="#3c3c3c" stroke="#3c3c3c" stroke-width="0" text-anchor="start" textLength="51.2" lengthAdjust="spacingAndGlyphs">10-31.5mm</text>
<text x="425.8" y="294.2" font-family="'Liberation Sans','Noto Sans CJK SC',sans-serif" font-size="10" fill="#333" stroke="#333" stroke-width="0.3" text-anchor="start">干</text>
<text x="425.8" y="305" font-family="'Liberation Sans','Noto Sans CJK SC',sans-serif" font-size="10" fill="#333" stroke="#333" stroke-width="0.3" text-anchor="start">法</text>
<text x="546.2" y="303.6" font-family="'Liberation Sans','Noto Sans CJK SC',sans-serif" font-size="10" fill="#333" stroke="#333" stroke-width="0.3" text-anchor="start">干</text>
<text x="546.2" y="314.9" font-family="'Liberation Sans','Noto Sans CJK SC',sans-serif" font-size="10" fill="#333" stroke="#333" stroke-width="0.3" text-anchor="start">法</text>
<text x="343.1" y="412.8" font-family="'Liberation Sans','Noto Sans CJK SC',sans-serif" font-size="10" fill="#333" stroke="#333" stroke-width="0.3" text-anchor="start">湿</text>
<text x="343.1" y="423.2" font-family="'Liberation Sans','Noto Sans CJK SC',sans-serif" font-size="10" fill="#333" stroke="#333" stroke-width="0.3" text-anchor="start">法</text>
<text x="579.7" y="412.8" font-family="'Liberation Sans','Noto Sans CJK SC',sans-serif" font-size="10" fill="#333" stroke="#333" stroke-width="0.3" text-anchor="start">湿</text>
<text x="579.7" y="424" font-family="'Liberation Sans','Noto Sans CJK SC',sans-serif" font-size="10" fill="#333" stroke="#333" stroke-width="0.3" text-anchor="start">法</text></svg>
</body></html>
